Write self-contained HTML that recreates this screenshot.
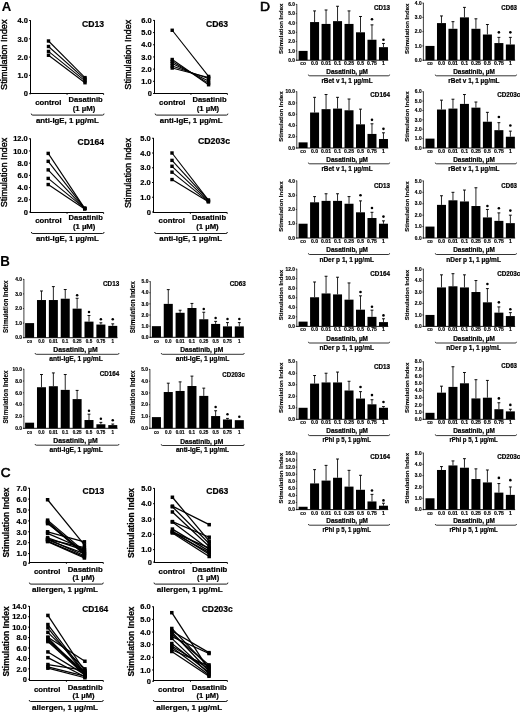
<!DOCTYPE html>
<html><head><meta charset="utf-8"><title>Figure</title>
<style>
html,body{margin:0;padding:0;background:#fff;}
svg{display:block;}
svg text{font-family:"Liberation Sans",sans-serif;font-weight:bold;fill:#000;stroke:#000;}
svg line,svg path{stroke:#000;}
svg rect,svg circle{fill:#000;}
svg{filter:grayscale(1);}
</style></head><body>
<svg width="520" height="713" viewBox="0 0 520 713">
<rect x="0" y="0" width="520" height="713" style="fill:#fff"/>
<text x="1.7" y="10.85" font-size="13.4" text-anchor="start" textLength="9.5" lengthAdjust="spacingAndGlyphs" stroke-width="0.15">A</text>
<text x="0.2" y="265.9" font-size="14" text-anchor="start" textLength="9.6" lengthAdjust="spacingAndGlyphs" stroke-width="0.1">B</text>
<text x="0.7" y="477.3" font-size="13.3" text-anchor="start" textLength="9.8" lengthAdjust="spacingAndGlyphs" style="font-weight:normal" stroke-width="0.6">C</text>
<text x="260" y="11" font-size="13.5" text-anchor="start" textLength="10" lengthAdjust="spacingAndGlyphs" style="font-weight:normal" stroke-width="0.6">D</text>
<line x1="30.5" y1="20.2" x2="30.5" y2="94.2" stroke-width="1"/>
<line x1="29.1" y1="93.7" x2="30.5" y2="93.7" stroke-width="1"/>
<text x="23.63" y="96.4" font-size="7.5" text-anchor="start" textLength="4.17" lengthAdjust="spacingAndGlyphs" stroke-width="0.22">0</text>
<line x1="29.1" y1="75.4" x2="30.5" y2="75.4" stroke-width="1"/>
<text x="17.38" y="78.1" font-size="7.5" text-anchor="start" textLength="10.43" lengthAdjust="spacingAndGlyphs" stroke-width="0.22">1.0</text>
<line x1="29.1" y1="57.1" x2="30.5" y2="57.1" stroke-width="1"/>
<text x="17.38" y="59.8" font-size="7.5" text-anchor="start" textLength="10.43" lengthAdjust="spacingAndGlyphs" stroke-width="0.22">2.0</text>
<line x1="29.1" y1="38.8" x2="30.5" y2="38.8" stroke-width="1"/>
<text x="17.38" y="41.5" font-size="7.5" text-anchor="start" textLength="10.43" lengthAdjust="spacingAndGlyphs" stroke-width="0.22">3.0</text>
<line x1="29.1" y1="20.5" x2="30.5" y2="20.5" stroke-width="1"/>
<text x="17.38" y="23.2" font-size="7.5" text-anchor="start" textLength="10.43" lengthAdjust="spacingAndGlyphs" stroke-width="0.22">4.0</text>
<line x1="30" y1="93.5" x2="103.6" y2="93.5" stroke-width="1"/>
<line x1="30.5" y1="89.5" x2="30.5" y2="94" stroke-width="1"/>
<line x1="67.05" y1="93.5" x2="67.05" y2="94.9" stroke-width="0.9"/>
<line x1="103.6" y1="93.5" x2="103.6" y2="94.9" stroke-width="0.9"/>
<line x1="48.5" y1="41" x2="85" y2="77.6" stroke-width="1.1"/>
<line x1="48.5" y1="46.49" x2="85" y2="79.06" stroke-width="1.1"/>
<line x1="48.5" y1="51.43" x2="85" y2="80.89" stroke-width="1.1"/>
<line x1="48.5" y1="55.27" x2="85" y2="82.72" stroke-width="1.1"/>
<rect x="46.8" y="39.3" width="3.4" height="3.4"/>
<rect x="83.3" y="75.9" width="3.4" height="3.4"/>
<rect x="46.8" y="44.79" width="3.4" height="3.4"/>
<rect x="83.3" y="77.36" width="3.4" height="3.4"/>
<rect x="46.8" y="49.73" width="3.4" height="3.4"/>
<rect x="83.3" y="79.19" width="3.4" height="3.4"/>
<rect x="46.8" y="53.57" width="3.4" height="3.4"/>
<rect x="83.3" y="81.02" width="3.4" height="3.4"/>
<text x="82" y="27.1" font-size="8.6" text-anchor="start" textLength="22" lengthAdjust="spacingAndGlyphs" stroke-width="0.22">CD13</text>
<text x="0" y="0" font-size="8.8" transform="translate(7.3 90) rotate(-90)" textLength="70.5" lengthAdjust="spacingAndGlyphs" style="font-weight:normal" stroke-width="0.4">Stimulation Index</text>
<text x="35.2" y="105.4" font-size="7.8" text-anchor="start" textLength="26.3" lengthAdjust="spacingAndGlyphs" stroke-width="0.22">control</text>
<text x="68.5" y="102.4" font-size="7.8" text-anchor="start" textLength="34.2" lengthAdjust="spacingAndGlyphs" stroke-width="0.22">Dasatinib</text>
<text x="72.8" y="110.8" font-size="7.8" text-anchor="start" textLength="22.5" lengthAdjust="spacingAndGlyphs" stroke-width="0.22">(1 µM)</text>
<path d="M31.25 113.6 Q31.25 115.1 32.75 115.1 L102.5 115.1 Q104 115.1 104 113.6" stroke-width="0.9" fill="none"/>
<text x="35.9" y="122.9" font-size="7.8" text-anchor="start" textLength="62.8" lengthAdjust="spacingAndGlyphs" stroke-width="0.22">anti-IgE, 1 µg/mL</text>
<line x1="154.5" y1="20.1" x2="154.5" y2="94" stroke-width="1"/>
<line x1="153.1" y1="93.5" x2="154.5" y2="93.5" stroke-width="1"/>
<text x="147.63" y="96.2" font-size="7.5" text-anchor="start" textLength="4.17" lengthAdjust="spacingAndGlyphs" stroke-width="0.22">0</text>
<line x1="153.1" y1="81.32" x2="154.5" y2="81.32" stroke-width="1"/>
<text x="141.37" y="84.02" font-size="7.5" text-anchor="start" textLength="10.43" lengthAdjust="spacingAndGlyphs" stroke-width="0.22">1.0</text>
<line x1="153.1" y1="69.13" x2="154.5" y2="69.13" stroke-width="1"/>
<text x="141.37" y="71.83" font-size="7.5" text-anchor="start" textLength="10.43" lengthAdjust="spacingAndGlyphs" stroke-width="0.22">2.0</text>
<line x1="153.1" y1="56.95" x2="154.5" y2="56.95" stroke-width="1"/>
<text x="141.37" y="59.65" font-size="7.5" text-anchor="start" textLength="10.43" lengthAdjust="spacingAndGlyphs" stroke-width="0.22">3.0</text>
<line x1="153.1" y1="44.77" x2="154.5" y2="44.77" stroke-width="1"/>
<text x="141.37" y="47.47" font-size="7.5" text-anchor="start" textLength="10.43" lengthAdjust="spacingAndGlyphs" stroke-width="0.22">4.0</text>
<line x1="153.1" y1="32.58" x2="154.5" y2="32.58" stroke-width="1"/>
<text x="141.37" y="35.28" font-size="7.5" text-anchor="start" textLength="10.43" lengthAdjust="spacingAndGlyphs" stroke-width="0.22">5.0</text>
<line x1="153.1" y1="20.4" x2="154.5" y2="20.4" stroke-width="1"/>
<text x="141.37" y="23.1" font-size="7.5" text-anchor="start" textLength="10.43" lengthAdjust="spacingAndGlyphs" stroke-width="0.22">6.0</text>
<line x1="154" y1="93.5" x2="227.4" y2="93.5" stroke-width="1"/>
<line x1="154.5" y1="89.5" x2="154.5" y2="94" stroke-width="1"/>
<line x1="190.95" y1="93.5" x2="190.95" y2="94.9" stroke-width="0.9"/>
<line x1="227.4" y1="93.5" x2="227.4" y2="94.9" stroke-width="0.9"/>
<line x1="172.2" y1="30.27" x2="208.6" y2="76.44" stroke-width="1.1"/>
<line x1="172.2" y1="59.51" x2="208.6" y2="84.73" stroke-width="1.1"/>
<line x1="172.2" y1="61.46" x2="208.6" y2="83.14" stroke-width="1.1"/>
<line x1="172.2" y1="63.53" x2="208.6" y2="80.95" stroke-width="1.1"/>
<line x1="172.2" y1="65.97" x2="208.6" y2="78.51" stroke-width="1.1"/>
<line x1="172.2" y1="68.04" x2="208.6" y2="77.42" stroke-width="1.1"/>
<rect x="170.5" y="28.57" width="3.4" height="3.4"/>
<rect x="206.9" y="74.74" width="3.4" height="3.4"/>
<rect x="170.5" y="57.81" width="3.4" height="3.4"/>
<rect x="206.9" y="83.03" width="3.4" height="3.4"/>
<rect x="170.5" y="59.76" width="3.4" height="3.4"/>
<rect x="206.9" y="81.44" width="3.4" height="3.4"/>
<rect x="170.5" y="61.83" width="3.4" height="3.4"/>
<rect x="206.9" y="79.25" width="3.4" height="3.4"/>
<rect x="170.5" y="64.27" width="3.4" height="3.4"/>
<rect x="206.9" y="76.81" width="3.4" height="3.4"/>
<rect x="170.5" y="66.34" width="3.4" height="3.4"/>
<rect x="206.9" y="75.72" width="3.4" height="3.4"/>
<text x="206" y="27.1" font-size="8.6" text-anchor="start" textLength="22" lengthAdjust="spacingAndGlyphs" stroke-width="0.22">CD63</text>
<text x="0" y="0" font-size="8.8" transform="translate(131.3 89.7) rotate(-90)" textLength="70" lengthAdjust="spacingAndGlyphs" style="font-weight:normal" stroke-width="0.4">Stimulation Index</text>
<text x="159.1" y="105.4" font-size="7.8" text-anchor="start" textLength="26.3" lengthAdjust="spacingAndGlyphs" stroke-width="0.22">control</text>
<text x="192.4" y="102.4" font-size="7.8" text-anchor="start" textLength="34.2" lengthAdjust="spacingAndGlyphs" stroke-width="0.22">Dasatinib</text>
<text x="196.7" y="110.8" font-size="7.8" text-anchor="start" textLength="22.5" lengthAdjust="spacingAndGlyphs" stroke-width="0.22">(1 µM)</text>
<path d="M155.15 113.6 Q155.15 115.1 156.65 115.1 L226.4 115.1 Q227.9 115.1 227.9 113.6" stroke-width="0.9" fill="none"/>
<text x="159.8" y="122.9" font-size="7.8" text-anchor="start" textLength="62.8" lengthAdjust="spacingAndGlyphs" stroke-width="0.22">anti-IgE, 1 µg/mL</text>
<line x1="30.5" y1="138.45" x2="30.5" y2="212.5" stroke-width="1"/>
<line x1="29.1" y1="212" x2="30.5" y2="212" stroke-width="1"/>
<text x="23.63" y="214.7" font-size="7.5" text-anchor="start" textLength="4.17" lengthAdjust="spacingAndGlyphs" stroke-width="0.22">0</text>
<line x1="29.1" y1="199.79" x2="30.5" y2="199.79" stroke-width="1"/>
<text x="17.38" y="202.49" font-size="7.5" text-anchor="start" textLength="10.43" lengthAdjust="spacingAndGlyphs" stroke-width="0.22">2.0</text>
<line x1="29.1" y1="187.58" x2="30.5" y2="187.58" stroke-width="1"/>
<text x="17.38" y="190.28" font-size="7.5" text-anchor="start" textLength="10.43" lengthAdjust="spacingAndGlyphs" stroke-width="0.22">4.0</text>
<line x1="29.1" y1="175.38" x2="30.5" y2="175.38" stroke-width="1"/>
<text x="17.38" y="178.07" font-size="7.5" text-anchor="start" textLength="10.43" lengthAdjust="spacingAndGlyphs" stroke-width="0.22">6.0</text>
<line x1="29.1" y1="163.17" x2="30.5" y2="163.17" stroke-width="1"/>
<text x="17.38" y="165.87" font-size="7.5" text-anchor="start" textLength="10.43" lengthAdjust="spacingAndGlyphs" stroke-width="0.22">8.0</text>
<line x1="29.1" y1="150.96" x2="30.5" y2="150.96" stroke-width="1"/>
<text x="13.21" y="153.66" font-size="7.5" text-anchor="start" textLength="14.6" lengthAdjust="spacingAndGlyphs" stroke-width="0.22">10.0</text>
<line x1="29.1" y1="138.75" x2="30.5" y2="138.75" stroke-width="1"/>
<text x="13.21" y="141.45" font-size="7.5" text-anchor="start" textLength="14.6" lengthAdjust="spacingAndGlyphs" stroke-width="0.22">12.0</text>
<line x1="30" y1="212.5" x2="103.6" y2="212.5" stroke-width="1"/>
<line x1="30.5" y1="208.5" x2="30.5" y2="213" stroke-width="1"/>
<line x1="67.05" y1="212.5" x2="67.05" y2="213.9" stroke-width="0.9"/>
<line x1="103.6" y1="212.5" x2="103.6" y2="213.9" stroke-width="0.9"/>
<line x1="48.2" y1="153.4" x2="84.7" y2="208.34" stroke-width="1.1"/>
<line x1="48.2" y1="161.34" x2="84.7" y2="208.34" stroke-width="1.1"/>
<line x1="48.2" y1="169.88" x2="84.7" y2="208.64" stroke-width="1.1"/>
<line x1="48.2" y1="178.43" x2="84.7" y2="208.34" stroke-width="1.1"/>
<line x1="48.2" y1="184.53" x2="84.7" y2="208.95" stroke-width="1.1"/>
<rect x="46.5" y="151.7" width="3.4" height="3.4"/>
<rect x="83" y="206.64" width="3.4" height="3.4"/>
<rect x="46.5" y="159.64" width="3.4" height="3.4"/>
<rect x="83" y="206.64" width="3.4" height="3.4"/>
<rect x="46.5" y="168.18" width="3.4" height="3.4"/>
<rect x="83" y="206.94" width="3.4" height="3.4"/>
<rect x="46.5" y="176.73" width="3.4" height="3.4"/>
<rect x="83" y="206.64" width="3.4" height="3.4"/>
<rect x="46.5" y="182.83" width="3.4" height="3.4"/>
<rect x="83" y="207.25" width="3.4" height="3.4"/>
<text x="77.5" y="145.1" font-size="8.6" text-anchor="start" textLength="26.5" lengthAdjust="spacingAndGlyphs" stroke-width="0.22">CD164</text>
<text x="0" y="0" font-size="8.8" transform="translate(7.1 207.3) rotate(-90)" textLength="69.5" lengthAdjust="spacingAndGlyphs" style="font-weight:normal" stroke-width="0.4">Stimulation Index</text>
<text x="35.3" y="223.1" font-size="7.8" text-anchor="start" textLength="26.3" lengthAdjust="spacingAndGlyphs" stroke-width="0.22">control</text>
<text x="68.6" y="220.1" font-size="7.8" text-anchor="start" textLength="34.2" lengthAdjust="spacingAndGlyphs" stroke-width="0.22">Dasatinib</text>
<text x="72.9" y="229.2" font-size="7.8" text-anchor="start" textLength="22.5" lengthAdjust="spacingAndGlyphs" stroke-width="0.22">(1 µM)</text>
<path d="M31.35 232 Q31.35 233.5 32.85 233.5 L102.6 233.5 Q104.1 233.5 104.1 232" stroke-width="0.9" fill="none"/>
<text x="36" y="241.3" font-size="7.8" text-anchor="start" textLength="62.8" lengthAdjust="spacingAndGlyphs" stroke-width="0.22">anti-IgE, 1 µg/mL</text>
<line x1="153.5" y1="137.95" x2="153.5" y2="212.5" stroke-width="1"/>
<line x1="152.1" y1="212" x2="153.5" y2="212" stroke-width="1"/>
<text x="146.63" y="214.7" font-size="7.5" text-anchor="start" textLength="4.17" lengthAdjust="spacingAndGlyphs" stroke-width="0.22">0</text>
<line x1="152.1" y1="197.25" x2="153.5" y2="197.25" stroke-width="1"/>
<text x="140.37" y="199.95" font-size="7.5" text-anchor="start" textLength="10.43" lengthAdjust="spacingAndGlyphs" stroke-width="0.22">1.0</text>
<line x1="152.1" y1="182.5" x2="153.5" y2="182.5" stroke-width="1"/>
<text x="140.37" y="185.2" font-size="7.5" text-anchor="start" textLength="10.43" lengthAdjust="spacingAndGlyphs" stroke-width="0.22">2.0</text>
<line x1="152.1" y1="167.75" x2="153.5" y2="167.75" stroke-width="1"/>
<text x="140.37" y="170.45" font-size="7.5" text-anchor="start" textLength="10.43" lengthAdjust="spacingAndGlyphs" stroke-width="0.22">3.0</text>
<line x1="152.1" y1="153" x2="153.5" y2="153" stroke-width="1"/>
<text x="140.37" y="155.7" font-size="7.5" text-anchor="start" textLength="10.43" lengthAdjust="spacingAndGlyphs" stroke-width="0.22">4.0</text>
<line x1="152.1" y1="138.25" x2="153.5" y2="138.25" stroke-width="1"/>
<text x="140.37" y="140.95" font-size="7.5" text-anchor="start" textLength="10.43" lengthAdjust="spacingAndGlyphs" stroke-width="0.22">5.0</text>
<line x1="153" y1="212.5" x2="227.2" y2="212.5" stroke-width="1"/>
<line x1="153.5" y1="208.5" x2="153.5" y2="213" stroke-width="1"/>
<line x1="190.35" y1="212.5" x2="190.35" y2="213.9" stroke-width="0.9"/>
<line x1="227.2" y1="212.5" x2="227.2" y2="213.9" stroke-width="0.9"/>
<line x1="172" y1="153" x2="208.4" y2="200.2" stroke-width="1.1"/>
<line x1="172" y1="160.38" x2="208.4" y2="200.2" stroke-width="1.1"/>
<line x1="172" y1="166.28" x2="208.4" y2="200.94" stroke-width="1.1"/>
<line x1="172" y1="172.18" x2="208.4" y2="201.68" stroke-width="1.1"/>
<line x1="172" y1="179.55" x2="208.4" y2="201.68" stroke-width="1.1"/>
<rect x="170.3" y="151.3" width="3.4" height="3.4"/>
<rect x="206.7" y="198.5" width="3.4" height="3.4"/>
<rect x="170.3" y="158.68" width="3.4" height="3.4"/>
<rect x="206.7" y="198.5" width="3.4" height="3.4"/>
<rect x="170.3" y="164.58" width="3.4" height="3.4"/>
<rect x="206.7" y="199.24" width="3.4" height="3.4"/>
<rect x="170.3" y="170.48" width="3.4" height="3.4"/>
<rect x="206.7" y="199.98" width="3.4" height="3.4"/>
<rect x="170.3" y="177.85" width="3.4" height="3.4"/>
<rect x="206.7" y="199.98" width="3.4" height="3.4"/>
<text x="198" y="143.6" font-size="8.6" text-anchor="start" textLength="32" lengthAdjust="spacingAndGlyphs" stroke-width="0.22">CD203c</text>
<text x="0" y="0" font-size="8.8" transform="translate(131.3 208) rotate(-90)" textLength="70" lengthAdjust="spacingAndGlyphs" style="font-weight:normal" stroke-width="0.4">Stimulation Index</text>
<text x="158.6" y="223.1" font-size="7.8" text-anchor="start" textLength="26.3" lengthAdjust="spacingAndGlyphs" stroke-width="0.22">control</text>
<text x="191.9" y="220.1" font-size="7.8" text-anchor="start" textLength="34.2" lengthAdjust="spacingAndGlyphs" stroke-width="0.22">Dasatinib</text>
<text x="196.2" y="229.2" font-size="7.8" text-anchor="start" textLength="22.5" lengthAdjust="spacingAndGlyphs" stroke-width="0.22">(1 µM)</text>
<path d="M154.65 232 Q154.65 233.5 156.15 233.5 L225.9 233.5 Q227.4 233.5 227.4 232" stroke-width="0.9" fill="none"/>
<text x="159.3" y="241.3" font-size="7.8" text-anchor="start" textLength="62.8" lengthAdjust="spacingAndGlyphs" stroke-width="0.22">anti-IgE, 1 µg/mL</text>
<line x1="29.5" y1="487.9" x2="29.5" y2="563.7" stroke-width="1"/>
<line x1="28.1" y1="563.2" x2="29.5" y2="563.2" stroke-width="1"/>
<text x="22.63" y="565.9" font-size="7.5" text-anchor="start" textLength="4.17" lengthAdjust="spacingAndGlyphs" stroke-width="0.22">0</text>
<line x1="28.1" y1="553.6" x2="29.5" y2="553.6" stroke-width="1"/>
<text x="16.38" y="556.3" font-size="7.5" text-anchor="start" textLength="10.43" lengthAdjust="spacingAndGlyphs" stroke-width="0.22">1.0</text>
<line x1="28.1" y1="542.7" x2="29.5" y2="542.7" stroke-width="1"/>
<text x="16.38" y="545.4" font-size="7.5" text-anchor="start" textLength="10.43" lengthAdjust="spacingAndGlyphs" stroke-width="0.22">2.0</text>
<line x1="28.1" y1="531.8" x2="29.5" y2="531.8" stroke-width="1"/>
<text x="16.38" y="534.5" font-size="7.5" text-anchor="start" textLength="10.43" lengthAdjust="spacingAndGlyphs" stroke-width="0.22">3.0</text>
<line x1="28.1" y1="520.9" x2="29.5" y2="520.9" stroke-width="1"/>
<text x="16.38" y="523.6" font-size="7.5" text-anchor="start" textLength="10.43" lengthAdjust="spacingAndGlyphs" stroke-width="0.22">4.0</text>
<line x1="28.1" y1="510" x2="29.5" y2="510" stroke-width="1"/>
<text x="16.38" y="512.7" font-size="7.5" text-anchor="start" textLength="10.43" lengthAdjust="spacingAndGlyphs" stroke-width="0.22">5.0</text>
<line x1="28.1" y1="499.1" x2="29.5" y2="499.1" stroke-width="1"/>
<text x="16.38" y="501.8" font-size="7.5" text-anchor="start" textLength="10.43" lengthAdjust="spacingAndGlyphs" stroke-width="0.22">6.0</text>
<line x1="28.1" y1="488.2" x2="29.5" y2="488.2" stroke-width="1"/>
<text x="16.38" y="490.9" font-size="7.5" text-anchor="start" textLength="10.43" lengthAdjust="spacingAndGlyphs" stroke-width="0.22">7.0</text>
<line x1="29" y1="562.5" x2="103.3" y2="562.5" stroke-width="1"/>
<line x1="29.5" y1="558.5" x2="29.5" y2="563" stroke-width="1"/>
<line x1="66.4" y1="562.5" x2="66.4" y2="563.9" stroke-width="0.9"/>
<line x1="103.3" y1="562.5" x2="103.3" y2="563.9" stroke-width="0.9"/>
<line x1="47.6" y1="499.75" x2="84.4" y2="544.88" stroke-width="1.25"/>
<line x1="47.6" y1="520.14" x2="84.4" y2="551.42" stroke-width="1.25"/>
<line x1="47.6" y1="521.44" x2="84.4" y2="553.6" stroke-width="1.25"/>
<line x1="47.6" y1="522.53" x2="84.4" y2="554.69" stroke-width="1.25"/>
<line x1="47.6" y1="523.62" x2="84.4" y2="552.51" stroke-width="1.25"/>
<line x1="47.6" y1="531.8" x2="84.4" y2="541.83" stroke-width="1.25"/>
<line x1="47.6" y1="533.43" x2="84.4" y2="549.24" stroke-width="1.25"/>
<line x1="47.6" y1="537.79" x2="84.4" y2="550.33" stroke-width="1.25"/>
<line x1="47.6" y1="538.88" x2="84.4" y2="555.78" stroke-width="1.25"/>
<line x1="47.6" y1="539.98" x2="84.4" y2="553.6" stroke-width="1.25"/>
<line x1="47.6" y1="541.07" x2="84.4" y2="556.87" stroke-width="1.25"/>
<line x1="47.6" y1="541.61" x2="84.4" y2="557.96" stroke-width="1.25"/>
<line x1="47.6" y1="539.43" x2="84.4" y2="547.61" stroke-width="1.25"/>
<rect x="45.85" y="498" width="3.5" height="3.5"/>
<rect x="82.65" y="543.13" width="3.5" height="3.5"/>
<rect x="45.85" y="518.39" width="3.5" height="3.5"/>
<rect x="82.65" y="549.67" width="3.5" height="3.5"/>
<rect x="45.85" y="519.69" width="3.5" height="3.5"/>
<rect x="82.65" y="551.85" width="3.5" height="3.5"/>
<rect x="45.85" y="520.78" width="3.5" height="3.5"/>
<rect x="82.65" y="552.94" width="3.5" height="3.5"/>
<rect x="45.85" y="521.88" width="3.5" height="3.5"/>
<rect x="82.65" y="550.76" width="3.5" height="3.5"/>
<rect x="45.85" y="530.05" width="3.5" height="3.5"/>
<rect x="82.65" y="540.08" width="3.5" height="3.5"/>
<rect x="45.85" y="531.68" width="3.5" height="3.5"/>
<rect x="82.65" y="547.49" width="3.5" height="3.5"/>
<rect x="45.85" y="536.04" width="3.5" height="3.5"/>
<rect x="82.65" y="548.58" width="3.5" height="3.5"/>
<rect x="45.85" y="537.13" width="3.5" height="3.5"/>
<rect x="82.65" y="554.03" width="3.5" height="3.5"/>
<rect x="45.85" y="538.23" width="3.5" height="3.5"/>
<rect x="82.65" y="551.85" width="3.5" height="3.5"/>
<rect x="45.85" y="539.32" width="3.5" height="3.5"/>
<rect x="82.65" y="555.12" width="3.5" height="3.5"/>
<rect x="45.85" y="539.86" width="3.5" height="3.5"/>
<rect x="82.65" y="556.21" width="3.5" height="3.5"/>
<rect x="45.85" y="537.68" width="3.5" height="3.5"/>
<rect x="82.65" y="545.86" width="3.5" height="3.5"/>
<text x="82.5" y="494.3" font-size="8.6" text-anchor="start" textLength="21.7" lengthAdjust="spacingAndGlyphs" stroke-width="0.22">CD13</text>
<text x="0" y="0" font-size="8.2" transform="translate(9.3 557.5) rotate(-90)" textLength="70" lengthAdjust="spacingAndGlyphs" stroke-width="0.22">Stimulation Index</text>
<text x="34" y="574" font-size="7.8" text-anchor="start" textLength="26.4" lengthAdjust="spacingAndGlyphs" stroke-width="0.22">control</text>
<text x="67.7" y="571.6" font-size="7.8" text-anchor="start" textLength="35" lengthAdjust="spacingAndGlyphs" stroke-width="0.22">Dasatinib</text>
<text x="72.5" y="579.6" font-size="7.8" text-anchor="start" textLength="22.1" lengthAdjust="spacingAndGlyphs" stroke-width="0.22">(1 µM)</text>
<path d="M29.4 582.6 Q29.4 584.1 30.9 584.1 L101.8 584.1 Q103.3 584.1 103.3 582.6" stroke-width="0.9" fill="none"/>
<text x="32.1" y="592.2" font-size="7.8" text-anchor="start" textLength="65.9" lengthAdjust="spacingAndGlyphs" stroke-width="0.22">allergen, 1 µg/mL</text>
<line x1="154.5" y1="488.1" x2="154.5" y2="562.6" stroke-width="1"/>
<line x1="153.1" y1="562.1" x2="154.5" y2="562.1" stroke-width="1"/>
<text x="147.63" y="564.8" font-size="7.5" text-anchor="start" textLength="4.17" lengthAdjust="spacingAndGlyphs" stroke-width="0.22">0</text>
<line x1="153.1" y1="549.6" x2="154.5" y2="549.6" stroke-width="1"/>
<text x="141.37" y="552.3" font-size="7.5" text-anchor="start" textLength="10.43" lengthAdjust="spacingAndGlyphs" stroke-width="0.22">1.0</text>
<line x1="153.1" y1="534.3" x2="154.5" y2="534.3" stroke-width="1"/>
<text x="141.37" y="537" font-size="7.5" text-anchor="start" textLength="10.43" lengthAdjust="spacingAndGlyphs" stroke-width="0.22">2.0</text>
<line x1="153.1" y1="519" x2="154.5" y2="519" stroke-width="1"/>
<text x="141.37" y="521.7" font-size="7.5" text-anchor="start" textLength="10.43" lengthAdjust="spacingAndGlyphs" stroke-width="0.22">3.0</text>
<line x1="153.1" y1="503.7" x2="154.5" y2="503.7" stroke-width="1"/>
<text x="141.37" y="506.4" font-size="7.5" text-anchor="start" textLength="10.43" lengthAdjust="spacingAndGlyphs" stroke-width="0.22">4.0</text>
<line x1="153.1" y1="488.4" x2="154.5" y2="488.4" stroke-width="1"/>
<text x="141.37" y="491.1" font-size="7.5" text-anchor="start" textLength="10.43" lengthAdjust="spacingAndGlyphs" stroke-width="0.22">5.0</text>
<line x1="154" y1="562.5" x2="227.4" y2="562.5" stroke-width="1"/>
<line x1="154.5" y1="558.5" x2="154.5" y2="563" stroke-width="1"/>
<line x1="190.95" y1="562.5" x2="190.95" y2="563.9" stroke-width="0.9"/>
<line x1="227.4" y1="562.5" x2="227.4" y2="563.9" stroke-width="0.9"/>
<line x1="172.4" y1="497.27" x2="209.2" y2="541.03" stroke-width="1.25"/>
<line x1="172.4" y1="506.15" x2="209.2" y2="524.66" stroke-width="1.25"/>
<line x1="172.4" y1="506.76" x2="209.2" y2="543.48" stroke-width="1.25"/>
<line x1="172.4" y1="511.96" x2="209.2" y2="546.54" stroke-width="1.25"/>
<line x1="172.4" y1="521.6" x2="209.2" y2="537.21" stroke-width="1.25"/>
<line x1="172.4" y1="522.06" x2="209.2" y2="549.6" stroke-width="1.25"/>
<line x1="172.4" y1="529.1" x2="209.2" y2="551.13" stroke-width="1.25"/>
<line x1="172.4" y1="531.24" x2="209.2" y2="554.19" stroke-width="1.25"/>
<line x1="172.4" y1="531.85" x2="209.2" y2="548.07" stroke-width="1.25"/>
<line x1="172.4" y1="532.92" x2="209.2" y2="556.49" stroke-width="1.25"/>
<line x1="172.4" y1="532.46" x2="209.2" y2="552.66" stroke-width="1.25"/>
<rect x="170.65" y="495.52" width="3.5" height="3.5"/>
<rect x="207.45" y="539.28" width="3.5" height="3.5"/>
<rect x="170.65" y="504.4" width="3.5" height="3.5"/>
<rect x="207.45" y="522.91" width="3.5" height="3.5"/>
<rect x="170.65" y="505.01" width="3.5" height="3.5"/>
<rect x="207.45" y="541.73" width="3.5" height="3.5"/>
<rect x="170.65" y="510.21" width="3.5" height="3.5"/>
<rect x="207.45" y="544.79" width="3.5" height="3.5"/>
<rect x="170.65" y="519.85" width="3.5" height="3.5"/>
<rect x="207.45" y="535.46" width="3.5" height="3.5"/>
<rect x="170.65" y="520.31" width="3.5" height="3.5"/>
<rect x="207.45" y="547.85" width="3.5" height="3.5"/>
<rect x="170.65" y="527.35" width="3.5" height="3.5"/>
<rect x="207.45" y="549.38" width="3.5" height="3.5"/>
<rect x="170.65" y="529.49" width="3.5" height="3.5"/>
<rect x="207.45" y="552.44" width="3.5" height="3.5"/>
<rect x="170.65" y="530.1" width="3.5" height="3.5"/>
<rect x="207.45" y="546.32" width="3.5" height="3.5"/>
<rect x="170.65" y="531.17" width="3.5" height="3.5"/>
<rect x="207.45" y="554.74" width="3.5" height="3.5"/>
<rect x="170.65" y="530.71" width="3.5" height="3.5"/>
<rect x="207.45" y="550.91" width="3.5" height="3.5"/>
<text x="206.3" y="493.9" font-size="8.6" text-anchor="start" textLength="22" lengthAdjust="spacingAndGlyphs" stroke-width="0.22">CD63</text>
<text x="0" y="0" font-size="8.2" transform="translate(133.9 558) rotate(-90)" textLength="70" lengthAdjust="spacingAndGlyphs" stroke-width="0.22">Stimulation Index</text>
<text x="158.6" y="574" font-size="7.8" text-anchor="start" textLength="26.4" lengthAdjust="spacingAndGlyphs" stroke-width="0.22">control</text>
<text x="192.3" y="571.6" font-size="7.8" text-anchor="start" textLength="35" lengthAdjust="spacingAndGlyphs" stroke-width="0.22">Dasatinib</text>
<text x="197.1" y="579.6" font-size="7.8" text-anchor="start" textLength="22.1" lengthAdjust="spacingAndGlyphs" stroke-width="0.22">(1 µM)</text>
<path d="M154 582.6 Q154 584.1 155.5 584.1 L226.4 584.1 Q227.9 584.1 227.9 582.6" stroke-width="0.9" fill="none"/>
<text x="156.7" y="592.2" font-size="7.8" text-anchor="start" textLength="65.9" lengthAdjust="spacingAndGlyphs" stroke-width="0.22">allergen, 1 µg/mL</text>
<line x1="29.5" y1="606" x2="29.5" y2="679.7" stroke-width="1"/>
<line x1="28.1" y1="679.2" x2="29.5" y2="679.2" stroke-width="1"/>
<text x="22.63" y="681.9" font-size="7.5" text-anchor="start" textLength="4.17" lengthAdjust="spacingAndGlyphs" stroke-width="0.22">0</text>
<line x1="28.1" y1="668.87" x2="29.5" y2="668.87" stroke-width="1"/>
<text x="16.38" y="671.57" font-size="7.5" text-anchor="start" textLength="10.43" lengthAdjust="spacingAndGlyphs" stroke-width="0.22">2.0</text>
<line x1="28.1" y1="658.44" x2="29.5" y2="658.44" stroke-width="1"/>
<text x="16.38" y="661.14" font-size="7.5" text-anchor="start" textLength="10.43" lengthAdjust="spacingAndGlyphs" stroke-width="0.22">4.0</text>
<line x1="28.1" y1="648.01" x2="29.5" y2="648.01" stroke-width="1"/>
<text x="16.38" y="650.71" font-size="7.5" text-anchor="start" textLength="10.43" lengthAdjust="spacingAndGlyphs" stroke-width="0.22">6.0</text>
<line x1="28.1" y1="637.59" x2="29.5" y2="637.59" stroke-width="1"/>
<text x="16.38" y="640.29" font-size="7.5" text-anchor="start" textLength="10.43" lengthAdjust="spacingAndGlyphs" stroke-width="0.22">8.0</text>
<line x1="28.1" y1="627.16" x2="29.5" y2="627.16" stroke-width="1"/>
<text x="12.21" y="629.86" font-size="7.5" text-anchor="start" textLength="14.6" lengthAdjust="spacingAndGlyphs" stroke-width="0.22">10.0</text>
<line x1="28.1" y1="616.73" x2="29.5" y2="616.73" stroke-width="1"/>
<text x="12.21" y="619.43" font-size="7.5" text-anchor="start" textLength="14.6" lengthAdjust="spacingAndGlyphs" stroke-width="0.22">12.0</text>
<line x1="28.1" y1="606.3" x2="29.5" y2="606.3" stroke-width="1"/>
<text x="12.21" y="609" font-size="7.5" text-anchor="start" textLength="14.6" lengthAdjust="spacingAndGlyphs" stroke-width="0.22">14.0</text>
<line x1="29" y1="680.5" x2="103.3" y2="680.5" stroke-width="1"/>
<line x1="29.5" y1="676.5" x2="29.5" y2="681" stroke-width="1"/>
<line x1="66.4" y1="680.5" x2="66.4" y2="681.9" stroke-width="0.9"/>
<line x1="103.3" y1="680.5" x2="103.3" y2="681.9" stroke-width="0.9"/>
<line x1="47.9" y1="615.42" x2="84.9" y2="671.48" stroke-width="1.25"/>
<line x1="47.9" y1="624.55" x2="84.9" y2="673.04" stroke-width="1.25"/>
<line x1="47.9" y1="627.83" x2="84.9" y2="674.09" stroke-width="1.25"/>
<line x1="47.9" y1="632.37" x2="84.9" y2="668.87" stroke-width="1.25"/>
<line x1="47.9" y1="637.17" x2="84.9" y2="661.26" stroke-width="1.25"/>
<line x1="47.9" y1="639.41" x2="84.9" y2="672.52" stroke-width="1.25"/>
<line x1="47.9" y1="641.6" x2="84.9" y2="675.13" stroke-width="1.25"/>
<line x1="47.9" y1="651.92" x2="84.9" y2="674.61" stroke-width="1.25"/>
<line x1="47.9" y1="657.66" x2="84.9" y2="676.69" stroke-width="1.25"/>
<line x1="47.9" y1="664.54" x2="84.9" y2="670.44" stroke-width="1.25"/>
<line x1="47.9" y1="666.79" x2="84.9" y2="676.17" stroke-width="1.25"/>
<line x1="47.9" y1="668.19" x2="84.9" y2="677.74" stroke-width="1.25"/>
<line x1="47.9" y1="640.71" x2="84.9" y2="673.56" stroke-width="1.25"/>
<line x1="47.9" y1="637.59" x2="84.9" y2="675.65" stroke-width="1.25"/>
<rect x="46.15" y="613.67" width="3.5" height="3.5"/>
<rect x="83.15" y="669.73" width="3.5" height="3.5"/>
<rect x="46.15" y="622.8" width="3.5" height="3.5"/>
<rect x="83.15" y="671.29" width="3.5" height="3.5"/>
<rect x="46.15" y="626.08" width="3.5" height="3.5"/>
<rect x="83.15" y="672.34" width="3.5" height="3.5"/>
<rect x="46.15" y="630.62" width="3.5" height="3.5"/>
<rect x="83.15" y="667.12" width="3.5" height="3.5"/>
<rect x="46.15" y="635.42" width="3.5" height="3.5"/>
<rect x="83.15" y="659.51" width="3.5" height="3.5"/>
<rect x="46.15" y="637.66" width="3.5" height="3.5"/>
<rect x="83.15" y="670.77" width="3.5" height="3.5"/>
<rect x="46.15" y="639.85" width="3.5" height="3.5"/>
<rect x="83.15" y="673.38" width="3.5" height="3.5"/>
<rect x="46.15" y="650.17" width="3.5" height="3.5"/>
<rect x="83.15" y="672.86" width="3.5" height="3.5"/>
<rect x="46.15" y="655.91" width="3.5" height="3.5"/>
<rect x="83.15" y="674.94" width="3.5" height="3.5"/>
<rect x="46.15" y="662.79" width="3.5" height="3.5"/>
<rect x="83.15" y="668.69" width="3.5" height="3.5"/>
<rect x="46.15" y="665.04" width="3.5" height="3.5"/>
<rect x="83.15" y="674.42" width="3.5" height="3.5"/>
<rect x="46.15" y="666.44" width="3.5" height="3.5"/>
<rect x="83.15" y="675.99" width="3.5" height="3.5"/>
<rect x="46.15" y="638.96" width="3.5" height="3.5"/>
<rect x="83.15" y="671.81" width="3.5" height="3.5"/>
<rect x="46.15" y="635.84" width="3.5" height="3.5"/>
<rect x="83.15" y="673.9" width="3.5" height="3.5"/>
<text x="82.2" y="612.3" font-size="8.6" text-anchor="start" textLength="26" lengthAdjust="spacingAndGlyphs" stroke-width="0.22">CD164</text>
<text x="0" y="0" font-size="8.2" transform="translate(9.3 676.6) rotate(-90)" textLength="70.2" lengthAdjust="spacingAndGlyphs" stroke-width="0.22">Stimulation Index</text>
<text x="34" y="692.2" font-size="7.8" text-anchor="start" textLength="26.4" lengthAdjust="spacingAndGlyphs" stroke-width="0.22">control</text>
<text x="67.7" y="689.8" font-size="7.8" text-anchor="start" textLength="35" lengthAdjust="spacingAndGlyphs" stroke-width="0.22">Dasatinib</text>
<text x="72.5" y="698" font-size="7.8" text-anchor="start" textLength="22.1" lengthAdjust="spacingAndGlyphs" stroke-width="0.22">(1 µM)</text>
<path d="M29.2 700 Q29.2 701.5 30.7 701.5 L101.8 701.5 Q103.3 701.5 103.3 700" stroke-width="0.9" fill="none"/>
<text x="32.1" y="709.8" font-size="7.8" text-anchor="start" textLength="65.9" lengthAdjust="spacingAndGlyphs" stroke-width="0.22">allergen, 1 µg/mL</text>
<line x1="153.5" y1="606.45" x2="153.5" y2="681.7" stroke-width="1"/>
<line x1="152.1" y1="681.2" x2="153.5" y2="681.2" stroke-width="1"/>
<text x="146.63" y="683.9" font-size="7.5" text-anchor="start" textLength="4.17" lengthAdjust="spacingAndGlyphs" stroke-width="0.22">0</text>
<line x1="152.1" y1="669.96" x2="153.5" y2="669.96" stroke-width="1"/>
<text x="140.37" y="672.66" font-size="7.5" text-anchor="start" textLength="10.43" lengthAdjust="spacingAndGlyphs" stroke-width="0.22">1.0</text>
<line x1="152.1" y1="657.32" x2="153.5" y2="657.32" stroke-width="1"/>
<text x="140.37" y="660.02" font-size="7.5" text-anchor="start" textLength="10.43" lengthAdjust="spacingAndGlyphs" stroke-width="0.22">2.0</text>
<line x1="152.1" y1="644.67" x2="153.5" y2="644.67" stroke-width="1"/>
<text x="140.37" y="647.38" font-size="7.5" text-anchor="start" textLength="10.43" lengthAdjust="spacingAndGlyphs" stroke-width="0.22">3.0</text>
<line x1="152.1" y1="632.03" x2="153.5" y2="632.03" stroke-width="1"/>
<text x="140.37" y="634.73" font-size="7.5" text-anchor="start" textLength="10.43" lengthAdjust="spacingAndGlyphs" stroke-width="0.22">4.0</text>
<line x1="152.1" y1="619.39" x2="153.5" y2="619.39" stroke-width="1"/>
<text x="140.37" y="622.09" font-size="7.5" text-anchor="start" textLength="10.43" lengthAdjust="spacingAndGlyphs" stroke-width="0.22">5.0</text>
<line x1="152.1" y1="606.75" x2="153.5" y2="606.75" stroke-width="1"/>
<text x="140.37" y="609.45" font-size="7.5" text-anchor="start" textLength="10.43" lengthAdjust="spacingAndGlyphs" stroke-width="0.22">6.0</text>
<line x1="153" y1="680.5" x2="227.4" y2="680.5" stroke-width="1"/>
<line x1="153.5" y1="676.5" x2="153.5" y2="681" stroke-width="1"/>
<line x1="190.45" y1="680.5" x2="190.45" y2="681.9" stroke-width="0.9"/>
<line x1="227.4" y1="680.5" x2="227.4" y2="681.9" stroke-width="0.9"/>
<line x1="171.8" y1="612.69" x2="209" y2="669.96" stroke-width="1.25"/>
<line x1="171.8" y1="628.49" x2="209" y2="667.43" stroke-width="1.25"/>
<line x1="171.8" y1="631.02" x2="209" y2="652.64" stroke-width="1.25"/>
<line x1="171.8" y1="634.06" x2="209" y2="664.9" stroke-width="1.25"/>
<line x1="171.8" y1="636.58" x2="209" y2="653.52" stroke-width="1.25"/>
<line x1="171.8" y1="632.03" x2="209" y2="671.22" stroke-width="1.25"/>
<line x1="171.8" y1="643.54" x2="209" y2="672.49" stroke-width="1.25"/>
<line x1="171.8" y1="646.07" x2="209" y2="668.69" stroke-width="1.25"/>
<line x1="171.8" y1="647.2" x2="209" y2="675.01" stroke-width="1.25"/>
<line x1="171.8" y1="651.5" x2="209" y2="676.28" stroke-width="1.25"/>
<line x1="171.8" y1="638.35" x2="209" y2="673.75" stroke-width="1.25"/>
<line x1="171.8" y1="649.73" x2="209" y2="666.17" stroke-width="1.25"/>
<rect x="170.05" y="610.94" width="3.5" height="3.5"/>
<rect x="207.25" y="668.21" width="3.5" height="3.5"/>
<rect x="170.05" y="626.74" width="3.5" height="3.5"/>
<rect x="207.25" y="665.68" width="3.5" height="3.5"/>
<rect x="170.05" y="629.27" width="3.5" height="3.5"/>
<rect x="207.25" y="650.89" width="3.5" height="3.5"/>
<rect x="170.05" y="632.31" width="3.5" height="3.5"/>
<rect x="207.25" y="663.15" width="3.5" height="3.5"/>
<rect x="170.05" y="634.83" width="3.5" height="3.5"/>
<rect x="207.25" y="651.77" width="3.5" height="3.5"/>
<rect x="170.05" y="630.28" width="3.5" height="3.5"/>
<rect x="207.25" y="669.47" width="3.5" height="3.5"/>
<rect x="170.05" y="641.79" width="3.5" height="3.5"/>
<rect x="207.25" y="670.74" width="3.5" height="3.5"/>
<rect x="170.05" y="644.32" width="3.5" height="3.5"/>
<rect x="207.25" y="666.94" width="3.5" height="3.5"/>
<rect x="170.05" y="645.45" width="3.5" height="3.5"/>
<rect x="207.25" y="673.26" width="3.5" height="3.5"/>
<rect x="170.05" y="649.75" width="3.5" height="3.5"/>
<rect x="207.25" y="674.53" width="3.5" height="3.5"/>
<rect x="170.05" y="636.6" width="3.5" height="3.5"/>
<rect x="207.25" y="672" width="3.5" height="3.5"/>
<rect x="170.05" y="647.98" width="3.5" height="3.5"/>
<rect x="207.25" y="664.42" width="3.5" height="3.5"/>
<text x="201.7" y="612.4" font-size="8.6" text-anchor="start" textLength="31" lengthAdjust="spacingAndGlyphs" stroke-width="0.22">CD203c</text>
<text x="0" y="0" font-size="8.2" transform="translate(133.9 676.5) rotate(-90)" textLength="70" lengthAdjust="spacingAndGlyphs" stroke-width="0.22">Stimulation Index</text>
<text x="158.1" y="692.2" font-size="7.8" text-anchor="start" textLength="26.4" lengthAdjust="spacingAndGlyphs" stroke-width="0.22">control</text>
<text x="191.8" y="689.8" font-size="7.8" text-anchor="start" textLength="35" lengthAdjust="spacingAndGlyphs" stroke-width="0.22">Dasatinib</text>
<text x="196.6" y="698" font-size="7.8" text-anchor="start" textLength="22.1" lengthAdjust="spacingAndGlyphs" stroke-width="0.22">(1 µM)</text>
<path d="M153.3 700 Q153.3 701.5 154.8 701.5 L225.9 701.5 Q227.4 701.5 227.4 700" stroke-width="0.9" fill="none"/>
<text x="156.2" y="709.8" font-size="7.8" text-anchor="start" textLength="65.9" lengthAdjust="spacingAndGlyphs" stroke-width="0.22">allergen, 1 µg/mL</text>
<line x1="23.9" y1="279" x2="23.9" y2="338.2" stroke-width="0.75"/>
<line x1="22.9" y1="337.7" x2="23.9" y2="337.7" stroke-width="0.75"/>
<text x="15.24" y="339.39" font-size="4.7" text-anchor="start" textLength="6.86" lengthAdjust="spacingAndGlyphs" stroke-width="0.15">0.0</text>
<line x1="22.9" y1="323.1" x2="23.9" y2="323.1" stroke-width="0.75"/>
<text x="15.24" y="324.79" font-size="4.7" text-anchor="start" textLength="6.86" lengthAdjust="spacingAndGlyphs" stroke-width="0.15">1.0</text>
<line x1="22.9" y1="308.5" x2="23.9" y2="308.5" stroke-width="0.75"/>
<text x="15.24" y="310.19" font-size="4.7" text-anchor="start" textLength="6.86" lengthAdjust="spacingAndGlyphs" stroke-width="0.15">2.0</text>
<line x1="22.9" y1="293.9" x2="23.9" y2="293.9" stroke-width="0.75"/>
<text x="15.24" y="295.59" font-size="4.7" text-anchor="start" textLength="6.86" lengthAdjust="spacingAndGlyphs" stroke-width="0.15">3.0</text>
<line x1="22.9" y1="279.3" x2="23.9" y2="279.3" stroke-width="0.75"/>
<text x="15.24" y="280.99" font-size="4.7" text-anchor="start" textLength="6.86" lengthAdjust="spacingAndGlyphs" stroke-width="0.15">4.0</text>
<line x1="23.45" y1="337.7" x2="117.56" y2="337.7" stroke-width="0.9"/>
<rect x="25.1" y="323.1" width="9" height="14.6"/>
<rect x="36.98" y="300.03" width="9" height="37.67"/>
<line x1="41.48" y1="300.03" x2="41.48" y2="290.98" stroke-width="0.85"/>
<line x1="40.03" y1="290.98" x2="42.93" y2="290.98" stroke-width="0.95"/>
<rect x="48.86" y="300.03" width="9" height="37.67"/>
<line x1="53.36" y1="300.03" x2="53.36" y2="286.6" stroke-width="0.85"/>
<line x1="51.91" y1="286.6" x2="54.81" y2="286.6" stroke-width="0.95"/>
<rect x="60.74" y="298.72" width="9" height="38.98"/>
<line x1="65.24" y1="298.72" x2="65.24" y2="289.52" stroke-width="0.85"/>
<line x1="63.79" y1="289.52" x2="66.69" y2="289.52" stroke-width="0.95"/>
<rect x="72.62" y="308.65" width="9" height="29.05"/>
<line x1="77.12" y1="308.65" x2="77.12" y2="298.28" stroke-width="0.85"/>
<line x1="75.67" y1="298.28" x2="78.57" y2="298.28" stroke-width="0.95"/>
<circle cx="77.12" cy="295.21" r="1.25"/>
<rect x="84.5" y="321.64" width="9" height="16.06"/>
<line x1="89" y1="321.64" x2="89" y2="315.51" stroke-width="0.85"/>
<line x1="87.55" y1="315.51" x2="90.45" y2="315.51" stroke-width="0.95"/>
<circle cx="89" cy="312" r="1.25"/>
<rect x="96.38" y="324.56" width="9" height="13.14"/>
<line x1="100.88" y1="324.56" x2="100.88" y2="322.81" stroke-width="0.85"/>
<line x1="99.43" y1="322.81" x2="102.33" y2="322.81" stroke-width="0.95"/>
<circle cx="100.88" cy="319.3" r="1.25"/>
<rect x="108.26" y="325.87" width="9" height="11.83"/>
<line x1="112.76" y1="325.87" x2="112.76" y2="323.83" stroke-width="0.85"/>
<line x1="111.31" y1="323.83" x2="114.21" y2="323.83" stroke-width="0.95"/>
<circle cx="112.76" cy="319.16" r="1.25"/>
<text x="27.09" y="342.6" font-size="4.8" text-anchor="start" textLength="5.02" lengthAdjust="spacingAndGlyphs" stroke-width="0.15">co</text>
<text x="38.31" y="342.6" font-size="4.8" text-anchor="start" textLength="6.34" lengthAdjust="spacingAndGlyphs" stroke-width="0.15">0.0</text>
<text x="48.92" y="342.6" font-size="4.8" text-anchor="start" textLength="8.87" lengthAdjust="spacingAndGlyphs" stroke-width="0.15">0.01</text>
<text x="62.07" y="342.6" font-size="4.8" text-anchor="start" textLength="6.34" lengthAdjust="spacingAndGlyphs" stroke-width="0.15">0.1</text>
<text x="72.68" y="342.6" font-size="4.8" text-anchor="start" textLength="8.87" lengthAdjust="spacingAndGlyphs" stroke-width="0.15">0.25</text>
<text x="85.83" y="342.6" font-size="4.8" text-anchor="start" textLength="6.34" lengthAdjust="spacingAndGlyphs" stroke-width="0.15">0.5</text>
<text x="96.44" y="342.6" font-size="4.8" text-anchor="start" textLength="8.87" lengthAdjust="spacingAndGlyphs" stroke-width="0.15">0.75</text>
<text x="111.49" y="342.6" font-size="4.8" text-anchor="start" textLength="2.54" lengthAdjust="spacingAndGlyphs" stroke-width="0.15">1</text>
<text x="103" y="285.6" font-size="6.9" text-anchor="start" textLength="16.2" lengthAdjust="spacingAndGlyphs" stroke-width="0.22">CD13</text>
<text x="0" y="0" font-size="6.3" transform="translate(8.2 332.9) rotate(-90)" textLength="52.4" lengthAdjust="spacingAndGlyphs" stroke-width="0.12">Stimulation Index</text>
<text x="53.3" y="351.8" font-size="6.8" text-anchor="start" textLength="44.4" lengthAdjust="spacingAndGlyphs" stroke-width="0.22">Dasatinib, µM</text>
<path d="M35.1 353.1 Q35.1 354.3 36.3 354.3 L117.8 354.3 Q119 354.3 119 353.1" stroke-width="0.8" fill="none"/>
<text x="49.3" y="361" font-size="6.7" text-anchor="start" textLength="53.5" lengthAdjust="spacingAndGlyphs" stroke-width="0.22">anti-IgE, 1 µg/mL</text>
<line x1="150.3" y1="281.3" x2="150.3" y2="337.8" stroke-width="0.75"/>
<line x1="149.3" y1="337.3" x2="150.3" y2="337.3" stroke-width="0.75"/>
<text x="141.64" y="338.99" font-size="4.7" text-anchor="start" textLength="6.86" lengthAdjust="spacingAndGlyphs" stroke-width="0.15">0.0</text>
<line x1="149.3" y1="326.16" x2="150.3" y2="326.16" stroke-width="0.75"/>
<text x="141.64" y="327.85" font-size="4.7" text-anchor="start" textLength="6.86" lengthAdjust="spacingAndGlyphs" stroke-width="0.15">1.0</text>
<line x1="149.3" y1="315.02" x2="150.3" y2="315.02" stroke-width="0.75"/>
<text x="141.64" y="316.71" font-size="4.7" text-anchor="start" textLength="6.86" lengthAdjust="spacingAndGlyphs" stroke-width="0.15">2.0</text>
<line x1="149.3" y1="303.88" x2="150.3" y2="303.88" stroke-width="0.75"/>
<text x="141.64" y="305.57" font-size="4.7" text-anchor="start" textLength="6.86" lengthAdjust="spacingAndGlyphs" stroke-width="0.15">3.0</text>
<line x1="149.3" y1="292.74" x2="150.3" y2="292.74" stroke-width="0.75"/>
<text x="141.64" y="294.43" font-size="4.7" text-anchor="start" textLength="6.86" lengthAdjust="spacingAndGlyphs" stroke-width="0.15">4.0</text>
<line x1="149.3" y1="281.6" x2="150.3" y2="281.6" stroke-width="0.75"/>
<text x="141.64" y="283.29" font-size="4.7" text-anchor="start" textLength="6.86" lengthAdjust="spacingAndGlyphs" stroke-width="0.15">5.0</text>
<line x1="149.85" y1="337.3" x2="244.13" y2="337.3" stroke-width="0.9"/>
<rect x="151.9" y="326.16" width="9.05" height="11.14"/>
<rect x="163.74" y="303.88" width="9.05" height="33.42"/>
<line x1="168.27" y1="303.88" x2="168.27" y2="289.62" stroke-width="0.85"/>
<line x1="166.82" y1="289.62" x2="169.72" y2="289.62" stroke-width="0.95"/>
<rect x="175.58" y="312.79" width="9.05" height="24.51"/>
<line x1="180.11" y1="312.79" x2="180.11" y2="310.23" stroke-width="0.85"/>
<line x1="178.66" y1="310.23" x2="181.56" y2="310.23" stroke-width="0.95"/>
<rect x="187.42" y="308" width="9.05" height="29.3"/>
<line x1="191.95" y1="308" x2="191.95" y2="303.43" stroke-width="0.85"/>
<line x1="190.5" y1="303.43" x2="193.4" y2="303.43" stroke-width="0.95"/>
<rect x="199.26" y="319.25" width="9.05" height="18.05"/>
<line x1="203.78" y1="319.25" x2="203.78" y2="312.24" stroke-width="0.85"/>
<line x1="202.34" y1="312.24" x2="205.23" y2="312.24" stroke-width="0.95"/>
<circle cx="203.78" cy="309.12" r="1.25"/>
<rect x="211.1" y="323.93" width="9.05" height="13.37"/>
<line x1="215.63" y1="323.93" x2="215.63" y2="321.37" stroke-width="0.85"/>
<line x1="214.18" y1="321.37" x2="217.08" y2="321.37" stroke-width="0.95"/>
<circle cx="215.63" cy="317.92" r="1.25"/>
<rect x="222.94" y="326.38" width="9.05" height="10.92"/>
<line x1="227.47" y1="326.38" x2="227.47" y2="322.6" stroke-width="0.85"/>
<line x1="226.02" y1="322.6" x2="228.91" y2="322.6" stroke-width="0.95"/>
<circle cx="227.47" cy="318.92" r="1.25"/>
<rect x="234.78" y="326.38" width="9.05" height="10.92"/>
<line x1="239.31" y1="326.38" x2="239.31" y2="322.6" stroke-width="0.85"/>
<line x1="237.86" y1="322.6" x2="240.75" y2="322.6" stroke-width="0.95"/>
<circle cx="239.31" cy="318.92" r="1.25"/>
<text x="153.92" y="343" font-size="4.8" text-anchor="start" textLength="5.02" lengthAdjust="spacingAndGlyphs" stroke-width="0.15">co</text>
<text x="165.1" y="343" font-size="4.8" text-anchor="start" textLength="6.34" lengthAdjust="spacingAndGlyphs" stroke-width="0.15">0.0</text>
<text x="175.67" y="343" font-size="4.8" text-anchor="start" textLength="8.87" lengthAdjust="spacingAndGlyphs" stroke-width="0.15">0.01</text>
<text x="188.78" y="343" font-size="4.8" text-anchor="start" textLength="6.34" lengthAdjust="spacingAndGlyphs" stroke-width="0.15">0.1</text>
<text x="199.35" y="343" font-size="4.8" text-anchor="start" textLength="8.87" lengthAdjust="spacingAndGlyphs" stroke-width="0.15">0.25</text>
<text x="212.46" y="343" font-size="4.8" text-anchor="start" textLength="6.34" lengthAdjust="spacingAndGlyphs" stroke-width="0.15">0.5</text>
<text x="223.03" y="343" font-size="4.8" text-anchor="start" textLength="8.87" lengthAdjust="spacingAndGlyphs" stroke-width="0.15">0.75</text>
<text x="238.04" y="343" font-size="4.8" text-anchor="start" textLength="2.54" lengthAdjust="spacingAndGlyphs" stroke-width="0.15">1</text>
<text x="229.7" y="285.9" font-size="6.9" text-anchor="start" textLength="16.1" lengthAdjust="spacingAndGlyphs" stroke-width="0.22">CD63</text>
<text x="0" y="0" font-size="6.3" transform="translate(134.6 333.3) rotate(-90)" textLength="51.9" lengthAdjust="spacingAndGlyphs" stroke-width="0.12">Stimulation Index</text>
<text x="180.2" y="351.8" font-size="6.8" text-anchor="start" textLength="43" lengthAdjust="spacingAndGlyphs" stroke-width="0.22">Dasatinib, µM</text>
<path d="M161.25 353.1 Q161.25 354.3 162.45 354.3 L243.05 354.3 Q244.25 354.3 244.25 353.1" stroke-width="0.8" fill="none"/>
<text x="175.75" y="361" font-size="6.7" text-anchor="start" textLength="53.5" lengthAdjust="spacingAndGlyphs" stroke-width="0.22">anti-IgE, 1 µg/mL</text>
<line x1="23.9" y1="368.9" x2="23.9" y2="428.8" stroke-width="0.75"/>
<line x1="22.9" y1="428.3" x2="23.9" y2="428.3" stroke-width="0.75"/>
<text x="15.24" y="429.99" font-size="4.7" text-anchor="start" textLength="6.86" lengthAdjust="spacingAndGlyphs" stroke-width="0.15">0.0</text>
<line x1="22.9" y1="416.48" x2="23.9" y2="416.48" stroke-width="0.75"/>
<text x="15.24" y="418.17" font-size="4.7" text-anchor="start" textLength="6.86" lengthAdjust="spacingAndGlyphs" stroke-width="0.15">2.0</text>
<line x1="22.9" y1="404.66" x2="23.9" y2="404.66" stroke-width="0.75"/>
<text x="15.24" y="406.35" font-size="4.7" text-anchor="start" textLength="6.86" lengthAdjust="spacingAndGlyphs" stroke-width="0.15">4.0</text>
<line x1="22.9" y1="392.84" x2="23.9" y2="392.84" stroke-width="0.75"/>
<text x="15.24" y="394.53" font-size="4.7" text-anchor="start" textLength="6.86" lengthAdjust="spacingAndGlyphs" stroke-width="0.15">6.0</text>
<line x1="22.9" y1="381.02" x2="23.9" y2="381.02" stroke-width="0.75"/>
<text x="15.24" y="382.71" font-size="4.7" text-anchor="start" textLength="6.86" lengthAdjust="spacingAndGlyphs" stroke-width="0.15">8.0</text>
<line x1="22.9" y1="369.2" x2="23.9" y2="369.2" stroke-width="0.75"/>
<text x="12.5" y="370.89" font-size="4.7" text-anchor="start" textLength="9.6" lengthAdjust="spacingAndGlyphs" stroke-width="0.15">10.0</text>
<line x1="23.45" y1="428.3" x2="117.56" y2="428.3" stroke-width="0.9"/>
<rect x="25.1" y="422.69" width="9" height="5.61"/>
<rect x="36.98" y="387.23" width="9" height="41.07"/>
<line x1="41.48" y1="387.23" x2="41.48" y2="374.52" stroke-width="0.85"/>
<line x1="40.03" y1="374.52" x2="42.93" y2="374.52" stroke-width="0.95"/>
<rect x="48.86" y="386.22" width="9" height="42.08"/>
<line x1="53.36" y1="386.22" x2="53.36" y2="372.92" stroke-width="0.85"/>
<line x1="51.91" y1="372.92" x2="54.81" y2="372.92" stroke-width="0.95"/>
<rect x="60.74" y="389.88" width="9" height="38.42"/>
<line x1="65.24" y1="389.88" x2="65.24" y2="374.52" stroke-width="0.85"/>
<line x1="63.79" y1="374.52" x2="66.69" y2="374.52" stroke-width="0.95"/>
<rect x="72.62" y="399.1" width="9" height="29.2"/>
<line x1="77.12" y1="399.1" x2="77.12" y2="390.42" stroke-width="0.85"/>
<line x1="75.67" y1="390.42" x2="78.57" y2="390.42" stroke-width="0.95"/>
<rect x="84.5" y="420.03" width="9" height="8.27"/>
<line x1="89" y1="420.03" x2="89" y2="414.18" stroke-width="0.85"/>
<line x1="87.55" y1="414.18" x2="90.45" y2="414.18" stroke-width="0.95"/>
<circle cx="89" cy="410.69" r="1.25"/>
<rect x="96.38" y="424.28" width="9" height="4.02"/>
<line x1="100.88" y1="424.28" x2="100.88" y2="422.39" stroke-width="0.85"/>
<line x1="99.43" y1="422.39" x2="102.33" y2="422.39" stroke-width="0.95"/>
<circle cx="100.88" cy="418.78" r="1.25"/>
<rect x="108.26" y="425.11" width="9" height="3.19"/>
<line x1="112.76" y1="425.11" x2="112.76" y2="424.04" stroke-width="0.85"/>
<line x1="111.31" y1="424.04" x2="114.21" y2="424.04" stroke-width="0.95"/>
<circle cx="112.76" cy="420.2" r="1.25"/>
<text x="27.09" y="433.6" font-size="4.8" text-anchor="start" textLength="5.02" lengthAdjust="spacingAndGlyphs" stroke-width="0.15">co</text>
<text x="38.31" y="433.6" font-size="4.8" text-anchor="start" textLength="6.34" lengthAdjust="spacingAndGlyphs" stroke-width="0.15">0.0</text>
<text x="48.92" y="433.6" font-size="4.8" text-anchor="start" textLength="8.87" lengthAdjust="spacingAndGlyphs" stroke-width="0.15">0.01</text>
<text x="62.07" y="433.6" font-size="4.8" text-anchor="start" textLength="6.34" lengthAdjust="spacingAndGlyphs" stroke-width="0.15">0.1</text>
<text x="72.68" y="433.6" font-size="4.8" text-anchor="start" textLength="8.87" lengthAdjust="spacingAndGlyphs" stroke-width="0.15">0.25</text>
<text x="85.83" y="433.6" font-size="4.8" text-anchor="start" textLength="6.34" lengthAdjust="spacingAndGlyphs" stroke-width="0.15">0.5</text>
<text x="96.44" y="433.6" font-size="4.8" text-anchor="start" textLength="8.87" lengthAdjust="spacingAndGlyphs" stroke-width="0.15">0.75</text>
<text x="111.49" y="433.6" font-size="4.8" text-anchor="start" textLength="2.54" lengthAdjust="spacingAndGlyphs" stroke-width="0.15">1</text>
<text x="99.8" y="376.2" font-size="6.9" text-anchor="start" textLength="19.4" lengthAdjust="spacingAndGlyphs" stroke-width="0.22">CD164</text>
<text x="0" y="0" font-size="6.3" transform="translate(8.2 423.5) rotate(-90)" textLength="53" lengthAdjust="spacingAndGlyphs" stroke-width="0.12">Stimulation Index</text>
<text x="53.3" y="443.2" font-size="6.8" text-anchor="start" textLength="44.4" lengthAdjust="spacingAndGlyphs" stroke-width="0.22">Dasatinib, µM</text>
<path d="M35.1 444 Q35.1 445.2 36.3 445.2 L117.8 445.2 Q119 445.2 119 444" stroke-width="0.8" fill="none"/>
<text x="49.6" y="452.3" font-size="6.7" text-anchor="start" textLength="53.2" lengthAdjust="spacingAndGlyphs" stroke-width="0.22">anti-IgE, 1 µg/mL</text>
<line x1="149.9" y1="369.1" x2="149.9" y2="428.8" stroke-width="0.75"/>
<line x1="148.9" y1="428.3" x2="149.9" y2="428.3" stroke-width="0.75"/>
<text x="141.24" y="429.99" font-size="4.7" text-anchor="start" textLength="6.86" lengthAdjust="spacingAndGlyphs" stroke-width="0.15">0.0</text>
<line x1="148.9" y1="416.52" x2="149.9" y2="416.52" stroke-width="0.75"/>
<text x="141.24" y="418.21" font-size="4.7" text-anchor="start" textLength="6.86" lengthAdjust="spacingAndGlyphs" stroke-width="0.15">1.0</text>
<line x1="148.9" y1="404.74" x2="149.9" y2="404.74" stroke-width="0.75"/>
<text x="141.24" y="406.43" font-size="4.7" text-anchor="start" textLength="6.86" lengthAdjust="spacingAndGlyphs" stroke-width="0.15">2.0</text>
<line x1="148.9" y1="392.96" x2="149.9" y2="392.96" stroke-width="0.75"/>
<text x="141.24" y="394.65" font-size="4.7" text-anchor="start" textLength="6.86" lengthAdjust="spacingAndGlyphs" stroke-width="0.15">3.0</text>
<line x1="148.9" y1="381.18" x2="149.9" y2="381.18" stroke-width="0.75"/>
<text x="141.24" y="382.87" font-size="4.7" text-anchor="start" textLength="6.86" lengthAdjust="spacingAndGlyphs" stroke-width="0.15">4.0</text>
<line x1="148.9" y1="369.4" x2="149.9" y2="369.4" stroke-width="0.75"/>
<text x="141.24" y="371.09" font-size="4.7" text-anchor="start" textLength="6.86" lengthAdjust="spacingAndGlyphs" stroke-width="0.15">5.0</text>
<line x1="149.45" y1="428.3" x2="244.13" y2="428.3" stroke-width="0.9"/>
<rect x="151.9" y="417.11" width="9.05" height="11.19"/>
<rect x="163.74" y="392.02" width="9.05" height="36.28"/>
<line x1="168.27" y1="392.02" x2="168.27" y2="383.18" stroke-width="0.85"/>
<line x1="166.82" y1="383.18" x2="169.72" y2="383.18" stroke-width="0.95"/>
<rect x="175.58" y="390.96" width="9.05" height="37.34"/>
<line x1="180.11" y1="390.96" x2="180.11" y2="381.89" stroke-width="0.85"/>
<line x1="178.66" y1="381.89" x2="181.56" y2="381.89" stroke-width="0.95"/>
<rect x="187.42" y="386.01" width="9.05" height="42.29"/>
<line x1="191.95" y1="386.01" x2="191.95" y2="376.11" stroke-width="0.85"/>
<line x1="190.5" y1="376.11" x2="193.4" y2="376.11" stroke-width="0.95"/>
<rect x="199.26" y="395.9" width="9.05" height="32.4"/>
<line x1="203.78" y1="395.9" x2="203.78" y2="388.13" stroke-width="0.85"/>
<line x1="202.34" y1="388.13" x2="205.23" y2="388.13" stroke-width="0.95"/>
<rect x="211.1" y="416.05" width="9.05" height="12.25"/>
<line x1="215.63" y1="416.05" x2="215.63" y2="410.75" stroke-width="0.85"/>
<line x1="214.18" y1="410.75" x2="217.08" y2="410.75" stroke-width="0.95"/>
<circle cx="215.63" cy="407.1" r="1.25"/>
<rect x="222.94" y="419.47" width="9.05" height="8.84"/>
<line x1="227.47" y1="419.47" x2="227.47" y2="418.4" stroke-width="0.85"/>
<line x1="226.02" y1="418.4" x2="228.91" y2="418.4" stroke-width="0.95"/>
<circle cx="227.47" cy="414.16" r="1.25"/>
<rect x="234.78" y="420.17" width="9.05" height="8.13"/>
<circle cx="239.31" cy="416.64" r="1.25"/>
<text x="153.92" y="433.6" font-size="4.8" text-anchor="start" textLength="5.02" lengthAdjust="spacingAndGlyphs" stroke-width="0.15">co</text>
<text x="165.1" y="433.6" font-size="4.8" text-anchor="start" textLength="6.34" lengthAdjust="spacingAndGlyphs" stroke-width="0.15">0.0</text>
<text x="175.67" y="433.6" font-size="4.8" text-anchor="start" textLength="8.87" lengthAdjust="spacingAndGlyphs" stroke-width="0.15">0.01</text>
<text x="188.78" y="433.6" font-size="4.8" text-anchor="start" textLength="6.34" lengthAdjust="spacingAndGlyphs" stroke-width="0.15">0.1</text>
<text x="199.35" y="433.6" font-size="4.8" text-anchor="start" textLength="8.87" lengthAdjust="spacingAndGlyphs" stroke-width="0.15">0.25</text>
<text x="212.46" y="433.6" font-size="4.8" text-anchor="start" textLength="6.34" lengthAdjust="spacingAndGlyphs" stroke-width="0.15">0.5</text>
<text x="223.03" y="433.6" font-size="4.8" text-anchor="start" textLength="8.87" lengthAdjust="spacingAndGlyphs" stroke-width="0.15">0.75</text>
<text x="238.04" y="433.6" font-size="4.8" text-anchor="start" textLength="2.54" lengthAdjust="spacingAndGlyphs" stroke-width="0.15">1</text>
<text x="222.3" y="376.9" font-size="6.9" text-anchor="start" textLength="22.6" lengthAdjust="spacingAndGlyphs" stroke-width="0.22">CD203c</text>
<text x="0" y="0" font-size="6.3" transform="translate(134.6 423.5) rotate(-90)" textLength="53" lengthAdjust="spacingAndGlyphs" stroke-width="0.12">Stimulation Index</text>
<text x="180.2" y="443.6" font-size="6.8" text-anchor="start" textLength="43" lengthAdjust="spacingAndGlyphs" stroke-width="0.22">Dasatinib, µM</text>
<path d="M161.25 444.3 Q161.25 445.5 162.45 445.5 L243.05 445.5 Q244.25 445.5 244.25 444.3" stroke-width="0.8" fill="none"/>
<text x="175.9" y="452.3" font-size="6.7" text-anchor="start" textLength="53.2" lengthAdjust="spacingAndGlyphs" stroke-width="0.22">anti-IgE, 1 µg/mL</text>
<line x1="296.8" y1="4.1" x2="296.8" y2="60.7" stroke-width="0.75"/>
<line x1="295.8" y1="60.2" x2="296.8" y2="60.2" stroke-width="0.75"/>
<text x="288.29" y="61.86" font-size="4.6" text-anchor="start" textLength="6.71" lengthAdjust="spacingAndGlyphs" stroke-width="0.15">0.0</text>
<line x1="295.8" y1="50.9" x2="296.8" y2="50.9" stroke-width="0.75"/>
<text x="288.29" y="52.56" font-size="4.6" text-anchor="start" textLength="6.71" lengthAdjust="spacingAndGlyphs" stroke-width="0.15">1.0</text>
<line x1="295.8" y1="41.6" x2="296.8" y2="41.6" stroke-width="0.75"/>
<text x="288.29" y="43.26" font-size="4.6" text-anchor="start" textLength="6.71" lengthAdjust="spacingAndGlyphs" stroke-width="0.15">2.0</text>
<line x1="295.8" y1="32.3" x2="296.8" y2="32.3" stroke-width="0.75"/>
<text x="288.29" y="33.96" font-size="4.6" text-anchor="start" textLength="6.71" lengthAdjust="spacingAndGlyphs" stroke-width="0.15">3.0</text>
<line x1="295.8" y1="23" x2="296.8" y2="23" stroke-width="0.75"/>
<text x="288.29" y="24.66" font-size="4.6" text-anchor="start" textLength="6.71" lengthAdjust="spacingAndGlyphs" stroke-width="0.15">4.0</text>
<line x1="295.8" y1="13.7" x2="296.8" y2="13.7" stroke-width="0.75"/>
<text x="288.29" y="15.36" font-size="4.6" text-anchor="start" textLength="6.71" lengthAdjust="spacingAndGlyphs" stroke-width="0.15">5.0</text>
<line x1="295.8" y1="4.4" x2="296.8" y2="4.4" stroke-width="0.75"/>
<text x="288.29" y="6.06" font-size="4.6" text-anchor="start" textLength="6.71" lengthAdjust="spacingAndGlyphs" stroke-width="0.15">6.0</text>
<line x1="296.35" y1="60.2" x2="388.26" y2="60.2" stroke-width="0.9"/>
<rect x="298.6" y="50.9" width="9" height="9.3"/>
<rect x="310.08" y="22.07" width="9" height="38.13"/>
<line x1="314.58" y1="22.07" x2="314.58" y2="10.91" stroke-width="0.85"/>
<line x1="313.13" y1="10.91" x2="316.03" y2="10.91" stroke-width="0.95"/>
<rect x="321.56" y="23.93" width="9" height="36.27"/>
<line x1="326.06" y1="23.93" x2="326.06" y2="9.98" stroke-width="0.85"/>
<line x1="324.61" y1="9.98" x2="327.51" y2="9.98" stroke-width="0.95"/>
<rect x="333.04" y="21.14" width="9" height="39.06"/>
<line x1="337.54" y1="21.14" x2="337.54" y2="6.26" stroke-width="0.85"/>
<line x1="336.09" y1="6.26" x2="338.99" y2="6.26" stroke-width="0.95"/>
<rect x="344.52" y="23.93" width="9" height="36.27"/>
<line x1="349.02" y1="23.93" x2="349.02" y2="10.91" stroke-width="0.85"/>
<line x1="347.57" y1="10.91" x2="350.47" y2="10.91" stroke-width="0.95"/>
<rect x="356" y="32.3" width="9" height="27.9"/>
<line x1="360.5" y1="32.3" x2="360.5" y2="16.49" stroke-width="0.85"/>
<line x1="359.05" y1="16.49" x2="361.95" y2="16.49" stroke-width="0.95"/>
<rect x="367.48" y="39.74" width="9" height="20.46"/>
<line x1="371.98" y1="39.74" x2="371.98" y2="24.86" stroke-width="0.85"/>
<line x1="370.53" y1="24.86" x2="373.43" y2="24.86" stroke-width="0.95"/>
<circle cx="371.98" cy="19.28" r="1.3"/>
<rect x="378.96" y="47.18" width="9" height="13.02"/>
<line x1="383.46" y1="47.18" x2="383.46" y2="43.46" stroke-width="0.85"/>
<line x1="382.01" y1="43.46" x2="384.91" y2="43.46" stroke-width="0.95"/>
<circle cx="383.46" cy="39.74" r="1.3"/>
<text x="300.3" y="65.2" font-size="5" text-anchor="start" textLength="5.61" lengthAdjust="spacingAndGlyphs" stroke-width="0.15">co</text>
<text x="311.04" y="65.2" font-size="5" text-anchor="start" textLength="7.09" lengthAdjust="spacingAndGlyphs" stroke-width="0.15">0.0</text>
<text x="321.1" y="65.2" font-size="5" text-anchor="start" textLength="9.92" lengthAdjust="spacingAndGlyphs" stroke-width="0.15">0.01</text>
<text x="334" y="65.2" font-size="5" text-anchor="start" textLength="7.09" lengthAdjust="spacingAndGlyphs" stroke-width="0.15">0.1</text>
<text x="344.06" y="65.2" font-size="5" text-anchor="start" textLength="9.92" lengthAdjust="spacingAndGlyphs" stroke-width="0.15">0.25</text>
<text x="356.96" y="65.2" font-size="5" text-anchor="start" textLength="7.09" lengthAdjust="spacingAndGlyphs" stroke-width="0.15">0.5</text>
<text x="367.02" y="65.2" font-size="5" text-anchor="start" textLength="9.92" lengthAdjust="spacingAndGlyphs" stroke-width="0.15">0.75</text>
<text x="382.04" y="65.2" font-size="5" text-anchor="start" textLength="2.84" lengthAdjust="spacingAndGlyphs" stroke-width="0.15">1</text>
<text x="374" y="10.2" font-size="6.8" text-anchor="start" textLength="16" lengthAdjust="spacingAndGlyphs" stroke-width="0.22">CD13</text>
<text x="0" y="0" font-size="6.1" transform="translate(282.5 54) rotate(-90)" textLength="50.4" lengthAdjust="spacingAndGlyphs" stroke-width="0.12">Stimulation Index</text>
<text x="326.3" y="73.6" font-size="6.6" text-anchor="start" textLength="41.7" lengthAdjust="spacingAndGlyphs" stroke-width="0.22">Dasatinib, µM</text>
<path d="M308.4 74.6 Q308.4 75.8 309.6 75.8 L388.4 75.8 Q389.6 75.8 389.6 74.6" stroke-width="0.8" fill="none"/>
<text x="321.4" y="82.9" font-size="6.4" text-anchor="start" textLength="51.2" lengthAdjust="spacingAndGlyphs" stroke-width="0.22">rBet v 1, 1 µg/mL</text>
<line x1="423.4" y1="2.8" x2="423.4" y2="60.7" stroke-width="0.75"/>
<line x1="422.4" y1="60.2" x2="423.4" y2="60.2" stroke-width="0.75"/>
<text x="414.89" y="61.86" font-size="4.6" text-anchor="start" textLength="6.71" lengthAdjust="spacingAndGlyphs" stroke-width="0.15">0.0</text>
<line x1="422.4" y1="45.93" x2="423.4" y2="45.93" stroke-width="0.75"/>
<text x="414.89" y="47.58" font-size="4.6" text-anchor="start" textLength="6.71" lengthAdjust="spacingAndGlyphs" stroke-width="0.15">1.0</text>
<line x1="422.4" y1="31.65" x2="423.4" y2="31.65" stroke-width="0.75"/>
<text x="414.89" y="33.31" font-size="4.6" text-anchor="start" textLength="6.71" lengthAdjust="spacingAndGlyphs" stroke-width="0.15">2.0</text>
<line x1="422.4" y1="17.38" x2="423.4" y2="17.38" stroke-width="0.75"/>
<text x="414.89" y="19.03" font-size="4.6" text-anchor="start" textLength="6.71" lengthAdjust="spacingAndGlyphs" stroke-width="0.15">3.0</text>
<line x1="422.4" y1="3.1" x2="423.4" y2="3.1" stroke-width="0.75"/>
<text x="414.89" y="4.76" font-size="4.6" text-anchor="start" textLength="6.71" lengthAdjust="spacingAndGlyphs" stroke-width="0.15">4.0</text>
<line x1="422.95" y1="60.2" x2="515.16" y2="60.2" stroke-width="0.9"/>
<rect x="425.5" y="45.93" width="9" height="14.28"/>
<rect x="436.98" y="23.09" width="9" height="37.12"/>
<line x1="441.48" y1="23.09" x2="441.48" y2="15.95" stroke-width="0.85"/>
<line x1="440.03" y1="15.95" x2="442.93" y2="15.95" stroke-width="0.95"/>
<rect x="448.46" y="28.79" width="9" height="31.41"/>
<line x1="452.96" y1="28.79" x2="452.96" y2="21.66" stroke-width="0.85"/>
<line x1="451.51" y1="21.66" x2="454.41" y2="21.66" stroke-width="0.95"/>
<rect x="459.94" y="17.38" width="9" height="42.83"/>
<line x1="464.44" y1="17.38" x2="464.44" y2="7.38" stroke-width="0.85"/>
<line x1="462.99" y1="7.38" x2="465.89" y2="7.38" stroke-width="0.95"/>
<rect x="471.42" y="28.79" width="9" height="31.41"/>
<line x1="475.92" y1="28.79" x2="475.92" y2="18.8" stroke-width="0.85"/>
<line x1="474.47" y1="18.8" x2="477.37" y2="18.8" stroke-width="0.95"/>
<rect x="482.9" y="34.51" width="9" height="25.7"/>
<line x1="487.4" y1="34.51" x2="487.4" y2="24.51" stroke-width="0.85"/>
<line x1="485.95" y1="24.51" x2="488.85" y2="24.51" stroke-width="0.95"/>
<rect x="494.38" y="43.07" width="9" height="17.13"/>
<line x1="498.88" y1="43.07" x2="498.88" y2="37.36" stroke-width="0.85"/>
<line x1="497.43" y1="37.36" x2="500.33" y2="37.36" stroke-width="0.95"/>
<circle cx="498.88" cy="32.36" r="1.3"/>
<rect x="505.86" y="44.5" width="9" height="15.7"/>
<line x1="510.36" y1="44.5" x2="510.36" y2="37.36" stroke-width="0.85"/>
<line x1="508.91" y1="37.36" x2="511.81" y2="37.36" stroke-width="0.95"/>
<circle cx="510.36" cy="32.36" r="1.3"/>
<text x="427.19" y="65.2" font-size="5" text-anchor="start" textLength="5.61" lengthAdjust="spacingAndGlyphs" stroke-width="0.15">co</text>
<text x="437.94" y="65.2" font-size="5" text-anchor="start" textLength="7.09" lengthAdjust="spacingAndGlyphs" stroke-width="0.15">0.0</text>
<text x="448" y="65.2" font-size="5" text-anchor="start" textLength="9.92" lengthAdjust="spacingAndGlyphs" stroke-width="0.15">0.01</text>
<text x="460.9" y="65.2" font-size="5" text-anchor="start" textLength="7.09" lengthAdjust="spacingAndGlyphs" stroke-width="0.15">0.1</text>
<text x="470.96" y="65.2" font-size="5" text-anchor="start" textLength="9.92" lengthAdjust="spacingAndGlyphs" stroke-width="0.15">0.25</text>
<text x="483.86" y="65.2" font-size="5" text-anchor="start" textLength="7.09" lengthAdjust="spacingAndGlyphs" stroke-width="0.15">0.5</text>
<text x="493.92" y="65.2" font-size="5" text-anchor="start" textLength="9.92" lengthAdjust="spacingAndGlyphs" stroke-width="0.15">0.75</text>
<text x="508.94" y="65.2" font-size="5" text-anchor="start" textLength="2.84" lengthAdjust="spacingAndGlyphs" stroke-width="0.15">1</text>
<text x="501.3" y="9.95" font-size="6.8" text-anchor="start" textLength="15.7" lengthAdjust="spacingAndGlyphs" stroke-width="0.22">CD63</text>
<text x="0" y="0" font-size="6.1" transform="translate(408.9 54) rotate(-90)" textLength="50.4" lengthAdjust="spacingAndGlyphs" stroke-width="0.12">Stimulation Index</text>
<text x="453.2" y="73.6" font-size="6.6" text-anchor="start" textLength="41.7" lengthAdjust="spacingAndGlyphs" stroke-width="0.22">Dasatinib, µM</text>
<path d="M435.3 74.6 Q435.3 75.8 436.5 75.8 L515.3 75.8 Q516.5 75.8 516.5 74.6" stroke-width="0.8" fill="none"/>
<text x="448.3" y="82.9" font-size="6.4" text-anchor="start" textLength="51.2" lengthAdjust="spacingAndGlyphs" stroke-width="0.22">rBet v 1, 1 µg/mL</text>
<line x1="296.8" y1="91.4" x2="296.8" y2="148.5" stroke-width="0.75"/>
<line x1="295.8" y1="148" x2="296.8" y2="148" stroke-width="0.75"/>
<text x="288.29" y="149.66" font-size="4.6" text-anchor="start" textLength="6.71" lengthAdjust="spacingAndGlyphs" stroke-width="0.15">0.0</text>
<line x1="295.8" y1="136.74" x2="296.8" y2="136.74" stroke-width="0.75"/>
<text x="288.29" y="138.4" font-size="4.6" text-anchor="start" textLength="6.71" lengthAdjust="spacingAndGlyphs" stroke-width="0.15">2.0</text>
<line x1="295.8" y1="125.48" x2="296.8" y2="125.48" stroke-width="0.75"/>
<text x="288.29" y="127.14" font-size="4.6" text-anchor="start" textLength="6.71" lengthAdjust="spacingAndGlyphs" stroke-width="0.15">4.0</text>
<line x1="295.8" y1="114.22" x2="296.8" y2="114.22" stroke-width="0.75"/>
<text x="288.29" y="115.88" font-size="4.6" text-anchor="start" textLength="6.71" lengthAdjust="spacingAndGlyphs" stroke-width="0.15">6.0</text>
<line x1="295.8" y1="102.96" x2="296.8" y2="102.96" stroke-width="0.75"/>
<text x="288.29" y="104.62" font-size="4.6" text-anchor="start" textLength="6.71" lengthAdjust="spacingAndGlyphs" stroke-width="0.15">8.0</text>
<line x1="295.8" y1="91.7" x2="296.8" y2="91.7" stroke-width="0.75"/>
<text x="285.6" y="93.36" font-size="4.6" text-anchor="start" textLength="9.4" lengthAdjust="spacingAndGlyphs" stroke-width="0.15">10.0</text>
<line x1="296.35" y1="148" x2="388.26" y2="148" stroke-width="0.9"/>
<rect x="298.6" y="142.37" width="9" height="5.63"/>
<rect x="310.08" y="112.53" width="9" height="35.47"/>
<line x1="314.58" y1="112.53" x2="314.58" y2="97.33" stroke-width="0.85"/>
<line x1="313.13" y1="97.33" x2="316.03" y2="97.33" stroke-width="0.95"/>
<rect x="321.56" y="109.15" width="9" height="38.85"/>
<line x1="326.06" y1="109.15" x2="326.06" y2="94.52" stroke-width="0.85"/>
<line x1="324.61" y1="94.52" x2="327.51" y2="94.52" stroke-width="0.95"/>
<rect x="333.04" y="108.59" width="9" height="39.41"/>
<line x1="337.54" y1="108.59" x2="337.54" y2="97.33" stroke-width="0.85"/>
<line x1="336.09" y1="97.33" x2="338.99" y2="97.33" stroke-width="0.95"/>
<rect x="344.52" y="110.28" width="9" height="37.72"/>
<line x1="349.02" y1="110.28" x2="349.02" y2="99.02" stroke-width="0.85"/>
<line x1="347.57" y1="99.02" x2="350.47" y2="99.02" stroke-width="0.95"/>
<rect x="356" y="124.35" width="9" height="23.65"/>
<line x1="360.5" y1="124.35" x2="360.5" y2="109.15" stroke-width="0.85"/>
<line x1="359.05" y1="109.15" x2="361.95" y2="109.15" stroke-width="0.95"/>
<rect x="367.48" y="133.93" width="9" height="14.07"/>
<line x1="371.98" y1="133.93" x2="371.98" y2="123.79" stroke-width="0.85"/>
<line x1="370.53" y1="123.79" x2="373.43" y2="123.79" stroke-width="0.95"/>
<circle cx="371.98" cy="119.85" r="1.3"/>
<rect x="378.96" y="138.99" width="9" height="9.01"/>
<line x1="383.46" y1="138.99" x2="383.46" y2="132.8" stroke-width="0.85"/>
<line x1="382.01" y1="132.8" x2="384.91" y2="132.8" stroke-width="0.95"/>
<circle cx="383.46" cy="128.86" r="1.3"/>
<text x="300.3" y="153" font-size="5" text-anchor="start" textLength="5.61" lengthAdjust="spacingAndGlyphs" stroke-width="0.15">co</text>
<text x="311.04" y="153" font-size="5" text-anchor="start" textLength="7.09" lengthAdjust="spacingAndGlyphs" stroke-width="0.15">0.0</text>
<text x="321.1" y="153" font-size="5" text-anchor="start" textLength="9.92" lengthAdjust="spacingAndGlyphs" stroke-width="0.15">0.01</text>
<text x="334" y="153" font-size="5" text-anchor="start" textLength="7.09" lengthAdjust="spacingAndGlyphs" stroke-width="0.15">0.1</text>
<text x="344.06" y="153" font-size="5" text-anchor="start" textLength="9.92" lengthAdjust="spacingAndGlyphs" stroke-width="0.15">0.25</text>
<text x="356.96" y="153" font-size="5" text-anchor="start" textLength="7.09" lengthAdjust="spacingAndGlyphs" stroke-width="0.15">0.5</text>
<text x="367.02" y="153" font-size="5" text-anchor="start" textLength="9.92" lengthAdjust="spacingAndGlyphs" stroke-width="0.15">0.75</text>
<text x="382.04" y="153" font-size="5" text-anchor="start" textLength="2.84" lengthAdjust="spacingAndGlyphs" stroke-width="0.15">1</text>
<text x="370.3" y="97.15" font-size="6.8" text-anchor="start" textLength="19.7" lengthAdjust="spacingAndGlyphs" stroke-width="0.22">CD164</text>
<text x="0" y="0" font-size="6.1" transform="translate(282.5 141.8) rotate(-90)" textLength="50.4" lengthAdjust="spacingAndGlyphs" stroke-width="0.12">Stimulation Index</text>
<text x="326.3" y="161.9" font-size="6.6" text-anchor="start" textLength="41.7" lengthAdjust="spacingAndGlyphs" stroke-width="0.22">Dasatinib, µM</text>
<path d="M308.4 162.6 Q308.4 163.8 309.6 163.8 L388.4 163.8 Q389.6 163.8 389.6 162.6" stroke-width="0.8" fill="none"/>
<text x="321.4" y="170.9" font-size="6.4" text-anchor="start" textLength="51.2" lengthAdjust="spacingAndGlyphs" stroke-width="0.22">rBet v 1, 1 µg/mL</text>
<line x1="423.4" y1="91.4" x2="423.4" y2="148.5" stroke-width="0.75"/>
<line x1="422.4" y1="148" x2="423.4" y2="148" stroke-width="0.75"/>
<text x="414.89" y="149.66" font-size="4.6" text-anchor="start" textLength="6.71" lengthAdjust="spacingAndGlyphs" stroke-width="0.15">0.0</text>
<line x1="422.4" y1="138.62" x2="423.4" y2="138.62" stroke-width="0.75"/>
<text x="414.89" y="140.27" font-size="4.6" text-anchor="start" textLength="6.71" lengthAdjust="spacingAndGlyphs" stroke-width="0.15">1.0</text>
<line x1="422.4" y1="129.23" x2="423.4" y2="129.23" stroke-width="0.75"/>
<text x="414.89" y="130.89" font-size="4.6" text-anchor="start" textLength="6.71" lengthAdjust="spacingAndGlyphs" stroke-width="0.15">2.0</text>
<line x1="422.4" y1="119.85" x2="423.4" y2="119.85" stroke-width="0.75"/>
<text x="414.89" y="121.51" font-size="4.6" text-anchor="start" textLength="6.71" lengthAdjust="spacingAndGlyphs" stroke-width="0.15">3.0</text>
<line x1="422.4" y1="110.47" x2="423.4" y2="110.47" stroke-width="0.75"/>
<text x="414.89" y="112.12" font-size="4.6" text-anchor="start" textLength="6.71" lengthAdjust="spacingAndGlyphs" stroke-width="0.15">4.0</text>
<line x1="422.4" y1="101.08" x2="423.4" y2="101.08" stroke-width="0.75"/>
<text x="414.89" y="102.74" font-size="4.6" text-anchor="start" textLength="6.71" lengthAdjust="spacingAndGlyphs" stroke-width="0.15">5.0</text>
<line x1="422.4" y1="91.7" x2="423.4" y2="91.7" stroke-width="0.75"/>
<text x="414.89" y="93.36" font-size="4.6" text-anchor="start" textLength="6.71" lengthAdjust="spacingAndGlyphs" stroke-width="0.15">6.0</text>
<line x1="422.95" y1="148" x2="515.16" y2="148" stroke-width="0.9"/>
<rect x="425.5" y="138.62" width="9" height="9.38"/>
<rect x="436.98" y="109.53" width="9" height="38.47"/>
<line x1="441.48" y1="109.53" x2="441.48" y2="100.15" stroke-width="0.85"/>
<line x1="440.03" y1="100.15" x2="442.93" y2="100.15" stroke-width="0.95"/>
<rect x="448.46" y="108.59" width="9" height="39.41"/>
<line x1="452.96" y1="108.59" x2="452.96" y2="99.21" stroke-width="0.85"/>
<line x1="451.51" y1="99.21" x2="454.41" y2="99.21" stroke-width="0.95"/>
<rect x="459.94" y="103.9" width="9" height="44.1"/>
<line x1="464.44" y1="103.9" x2="464.44" y2="94.52" stroke-width="0.85"/>
<line x1="462.99" y1="94.52" x2="465.89" y2="94.52" stroke-width="0.95"/>
<rect x="471.42" y="107.65" width="9" height="40.35"/>
<line x1="475.92" y1="107.65" x2="475.92" y2="102.02" stroke-width="0.85"/>
<line x1="474.47" y1="102.02" x2="477.37" y2="102.02" stroke-width="0.95"/>
<rect x="482.9" y="121.73" width="9" height="26.27"/>
<line x1="487.4" y1="121.73" x2="487.4" y2="112.34" stroke-width="0.85"/>
<line x1="485.95" y1="112.34" x2="488.85" y2="112.34" stroke-width="0.95"/>
<rect x="494.38" y="130.17" width="9" height="17.83"/>
<line x1="498.88" y1="130.17" x2="498.88" y2="122.66" stroke-width="0.85"/>
<line x1="497.43" y1="122.66" x2="500.33" y2="122.66" stroke-width="0.95"/>
<circle cx="498.88" cy="117.03" r="1.3"/>
<rect x="505.86" y="136.74" width="9" height="11.26"/>
<line x1="510.36" y1="136.74" x2="510.36" y2="131.11" stroke-width="0.85"/>
<line x1="508.91" y1="131.11" x2="511.81" y2="131.11" stroke-width="0.95"/>
<circle cx="510.36" cy="125.48" r="1.3"/>
<text x="427.19" y="153" font-size="5" text-anchor="start" textLength="5.61" lengthAdjust="spacingAndGlyphs" stroke-width="0.15">co</text>
<text x="437.94" y="153" font-size="5" text-anchor="start" textLength="7.09" lengthAdjust="spacingAndGlyphs" stroke-width="0.15">0.0</text>
<text x="448" y="153" font-size="5" text-anchor="start" textLength="9.92" lengthAdjust="spacingAndGlyphs" stroke-width="0.15">0.01</text>
<text x="460.9" y="153" font-size="5" text-anchor="start" textLength="7.09" lengthAdjust="spacingAndGlyphs" stroke-width="0.15">0.1</text>
<text x="470.96" y="153" font-size="5" text-anchor="start" textLength="9.92" lengthAdjust="spacingAndGlyphs" stroke-width="0.15">0.25</text>
<text x="483.86" y="153" font-size="5" text-anchor="start" textLength="7.09" lengthAdjust="spacingAndGlyphs" stroke-width="0.15">0.5</text>
<text x="493.92" y="153" font-size="5" text-anchor="start" textLength="9.92" lengthAdjust="spacingAndGlyphs" stroke-width="0.15">0.75</text>
<text x="508.94" y="153" font-size="5" text-anchor="start" textLength="2.84" lengthAdjust="spacingAndGlyphs" stroke-width="0.15">1</text>
<text x="497.2" y="96.65" font-size="6.8" text-anchor="start" textLength="23.2" lengthAdjust="spacingAndGlyphs" stroke-width="0.22">CD203c</text>
<text x="0" y="0" font-size="6.1" transform="translate(408.9 141.8) rotate(-90)" textLength="50.4" lengthAdjust="spacingAndGlyphs" stroke-width="0.12">Stimulation Index</text>
<text x="453.2" y="161.9" font-size="6.6" text-anchor="start" textLength="41.7" lengthAdjust="spacingAndGlyphs" stroke-width="0.22">Dasatinib, µM</text>
<path d="M435.3 162.6 Q435.3 163.8 436.5 163.8 L515.3 163.8 Q516.5 163.8 516.5 162.6" stroke-width="0.8" fill="none"/>
<text x="448.3" y="170.9" font-size="6.4" text-anchor="start" textLength="51.2" lengthAdjust="spacingAndGlyphs" stroke-width="0.22">rBet v 1, 1 µg/mL</text>
<line x1="296.8" y1="180.6" x2="296.8" y2="238.5" stroke-width="0.75"/>
<line x1="295.8" y1="238" x2="296.8" y2="238" stroke-width="0.75"/>
<text x="288.29" y="239.66" font-size="4.6" text-anchor="start" textLength="6.71" lengthAdjust="spacingAndGlyphs" stroke-width="0.15">0.0</text>
<line x1="295.8" y1="223.72" x2="296.8" y2="223.72" stroke-width="0.75"/>
<text x="288.29" y="225.38" font-size="4.6" text-anchor="start" textLength="6.71" lengthAdjust="spacingAndGlyphs" stroke-width="0.15">1.0</text>
<line x1="295.8" y1="209.45" x2="296.8" y2="209.45" stroke-width="0.75"/>
<text x="288.29" y="211.11" font-size="4.6" text-anchor="start" textLength="6.71" lengthAdjust="spacingAndGlyphs" stroke-width="0.15">2.0</text>
<line x1="295.8" y1="195.18" x2="296.8" y2="195.18" stroke-width="0.75"/>
<text x="288.29" y="196.83" font-size="4.6" text-anchor="start" textLength="6.71" lengthAdjust="spacingAndGlyphs" stroke-width="0.15">3.0</text>
<line x1="295.8" y1="180.9" x2="296.8" y2="180.9" stroke-width="0.75"/>
<text x="288.29" y="182.56" font-size="4.6" text-anchor="start" textLength="6.71" lengthAdjust="spacingAndGlyphs" stroke-width="0.15">4.0</text>
<line x1="296.35" y1="238" x2="388.26" y2="238" stroke-width="0.9"/>
<rect x="298.6" y="223.72" width="9" height="14.27"/>
<rect x="310.08" y="202.31" width="9" height="35.69"/>
<line x1="314.58" y1="202.31" x2="314.58" y2="196.6" stroke-width="0.85"/>
<line x1="313.13" y1="196.6" x2="316.03" y2="196.6" stroke-width="0.95"/>
<rect x="321.56" y="200.88" width="9" height="37.11"/>
<line x1="326.06" y1="200.88" x2="326.06" y2="193.75" stroke-width="0.85"/>
<line x1="324.61" y1="193.75" x2="327.51" y2="193.75" stroke-width="0.95"/>
<rect x="333.04" y="200.88" width="9" height="37.11"/>
<line x1="337.54" y1="200.88" x2="337.54" y2="193.75" stroke-width="0.85"/>
<line x1="336.09" y1="193.75" x2="338.99" y2="193.75" stroke-width="0.95"/>
<rect x="344.52" y="203.74" width="9" height="34.26"/>
<line x1="349.02" y1="203.74" x2="349.02" y2="196.6" stroke-width="0.85"/>
<line x1="347.57" y1="196.6" x2="350.47" y2="196.6" stroke-width="0.95"/>
<rect x="356" y="212.31" width="9" height="25.69"/>
<line x1="360.5" y1="212.31" x2="360.5" y2="200.88" stroke-width="0.85"/>
<line x1="359.05" y1="200.88" x2="361.95" y2="200.88" stroke-width="0.95"/>
<circle cx="360.5" cy="195.18" r="1.3"/>
<rect x="367.48" y="218.02" width="9" height="19.98"/>
<line x1="371.98" y1="218.02" x2="371.98" y2="212.31" stroke-width="0.85"/>
<line x1="370.53" y1="212.31" x2="373.43" y2="212.31" stroke-width="0.95"/>
<circle cx="371.98" cy="208.02" r="1.3"/>
<rect x="378.96" y="223.72" width="9" height="14.27"/>
<line x1="383.46" y1="223.72" x2="383.46" y2="220.87" stroke-width="0.85"/>
<line x1="382.01" y1="220.87" x2="384.91" y2="220.87" stroke-width="0.95"/>
<circle cx="383.46" cy="216.59" r="1.3"/>
<text x="300.3" y="243" font-size="5" text-anchor="start" textLength="5.61" lengthAdjust="spacingAndGlyphs" stroke-width="0.15">co</text>
<text x="311.04" y="243" font-size="5" text-anchor="start" textLength="7.09" lengthAdjust="spacingAndGlyphs" stroke-width="0.15">0.0</text>
<text x="321.1" y="243" font-size="5" text-anchor="start" textLength="9.92" lengthAdjust="spacingAndGlyphs" stroke-width="0.15">0.01</text>
<text x="334" y="243" font-size="5" text-anchor="start" textLength="7.09" lengthAdjust="spacingAndGlyphs" stroke-width="0.15">0.1</text>
<text x="344.06" y="243" font-size="5" text-anchor="start" textLength="9.92" lengthAdjust="spacingAndGlyphs" stroke-width="0.15">0.25</text>
<text x="356.96" y="243" font-size="5" text-anchor="start" textLength="7.09" lengthAdjust="spacingAndGlyphs" stroke-width="0.15">0.5</text>
<text x="367.02" y="243" font-size="5" text-anchor="start" textLength="9.92" lengthAdjust="spacingAndGlyphs" stroke-width="0.15">0.75</text>
<text x="382.04" y="243" font-size="5" text-anchor="start" textLength="2.84" lengthAdjust="spacingAndGlyphs" stroke-width="0.15">1</text>
<text x="374" y="187.65" font-size="6.8" text-anchor="start" textLength="16" lengthAdjust="spacingAndGlyphs" stroke-width="0.22">CD13</text>
<text x="0" y="0" font-size="6.1" transform="translate(282.5 231.8) rotate(-90)" textLength="50.4" lengthAdjust="spacingAndGlyphs" stroke-width="0.12">Stimulation Index</text>
<text x="326.3" y="251.9" font-size="6.6" text-anchor="start" textLength="41.7" lengthAdjust="spacingAndGlyphs" stroke-width="0.22">Dasatinib, µM</text>
<path d="M308.4 253.3 Q308.4 254.5 309.6 254.5 L388.4 254.5 Q389.6 254.5 389.6 253.3" stroke-width="0.8" fill="none"/>
<text x="319.4" y="261.8" font-size="6.4" text-anchor="start" textLength="54.6" lengthAdjust="spacingAndGlyphs" stroke-width="0.22">nDer p 1, 1 µg/mL</text>
<line x1="423.4" y1="180.6" x2="423.4" y2="238.5" stroke-width="0.75"/>
<line x1="422.4" y1="238" x2="423.4" y2="238" stroke-width="0.75"/>
<text x="414.89" y="239.66" font-size="4.6" text-anchor="start" textLength="6.71" lengthAdjust="spacingAndGlyphs" stroke-width="0.15">0.0</text>
<line x1="422.4" y1="226.58" x2="423.4" y2="226.58" stroke-width="0.75"/>
<text x="414.89" y="228.24" font-size="4.6" text-anchor="start" textLength="6.71" lengthAdjust="spacingAndGlyphs" stroke-width="0.15">1.0</text>
<line x1="422.4" y1="215.16" x2="423.4" y2="215.16" stroke-width="0.75"/>
<text x="414.89" y="216.82" font-size="4.6" text-anchor="start" textLength="6.71" lengthAdjust="spacingAndGlyphs" stroke-width="0.15">2.0</text>
<line x1="422.4" y1="203.74" x2="423.4" y2="203.74" stroke-width="0.75"/>
<text x="414.89" y="205.4" font-size="4.6" text-anchor="start" textLength="6.71" lengthAdjust="spacingAndGlyphs" stroke-width="0.15">3.0</text>
<line x1="422.4" y1="192.32" x2="423.4" y2="192.32" stroke-width="0.75"/>
<text x="414.89" y="193.98" font-size="4.6" text-anchor="start" textLength="6.71" lengthAdjust="spacingAndGlyphs" stroke-width="0.15">4.0</text>
<line x1="422.4" y1="180.9" x2="423.4" y2="180.9" stroke-width="0.75"/>
<text x="414.89" y="182.56" font-size="4.6" text-anchor="start" textLength="6.71" lengthAdjust="spacingAndGlyphs" stroke-width="0.15">5.0</text>
<line x1="422.95" y1="238" x2="515.16" y2="238" stroke-width="0.9"/>
<rect x="425.5" y="226.58" width="9" height="11.42"/>
<rect x="436.98" y="204.88" width="9" height="33.12"/>
<line x1="441.48" y1="204.88" x2="441.48" y2="195.75" stroke-width="0.85"/>
<line x1="440.03" y1="195.75" x2="442.93" y2="195.75" stroke-width="0.95"/>
<rect x="448.46" y="200.31" width="9" height="37.69"/>
<line x1="452.96" y1="200.31" x2="452.96" y2="192.32" stroke-width="0.85"/>
<line x1="451.51" y1="192.32" x2="454.41" y2="192.32" stroke-width="0.95"/>
<rect x="459.94" y="201.46" width="9" height="36.54"/>
<line x1="464.44" y1="201.46" x2="464.44" y2="190.04" stroke-width="0.85"/>
<line x1="462.99" y1="190.04" x2="465.89" y2="190.04" stroke-width="0.95"/>
<rect x="471.42" y="206.02" width="9" height="31.98"/>
<line x1="475.92" y1="206.02" x2="475.92" y2="187.75" stroke-width="0.85"/>
<line x1="474.47" y1="187.75" x2="477.37" y2="187.75" stroke-width="0.95"/>
<rect x="482.9" y="217.44" width="9" height="20.56"/>
<line x1="487.4" y1="217.44" x2="487.4" y2="209.45" stroke-width="0.85"/>
<line x1="485.95" y1="209.45" x2="488.85" y2="209.45" stroke-width="0.95"/>
<circle cx="487.4" cy="206.02" r="1.3"/>
<rect x="494.38" y="220.87" width="9" height="17.13"/>
<line x1="498.88" y1="220.87" x2="498.88" y2="212.88" stroke-width="0.85"/>
<line x1="497.43" y1="212.88" x2="500.33" y2="212.88" stroke-width="0.95"/>
<circle cx="498.88" cy="208.31" r="1.3"/>
<rect x="505.86" y="223.15" width="9" height="14.85"/>
<line x1="510.36" y1="223.15" x2="510.36" y2="215.16" stroke-width="0.85"/>
<line x1="508.91" y1="215.16" x2="511.81" y2="215.16" stroke-width="0.95"/>
<circle cx="510.36" cy="210.59" r="1.3"/>
<text x="427.19" y="243" font-size="5" text-anchor="start" textLength="5.61" lengthAdjust="spacingAndGlyphs" stroke-width="0.15">co</text>
<text x="437.94" y="243" font-size="5" text-anchor="start" textLength="7.09" lengthAdjust="spacingAndGlyphs" stroke-width="0.15">0.0</text>
<text x="448" y="243" font-size="5" text-anchor="start" textLength="9.92" lengthAdjust="spacingAndGlyphs" stroke-width="0.15">0.01</text>
<text x="460.9" y="243" font-size="5" text-anchor="start" textLength="7.09" lengthAdjust="spacingAndGlyphs" stroke-width="0.15">0.1</text>
<text x="470.96" y="243" font-size="5" text-anchor="start" textLength="9.92" lengthAdjust="spacingAndGlyphs" stroke-width="0.15">0.25</text>
<text x="483.86" y="243" font-size="5" text-anchor="start" textLength="7.09" lengthAdjust="spacingAndGlyphs" stroke-width="0.15">0.5</text>
<text x="493.92" y="243" font-size="5" text-anchor="start" textLength="9.92" lengthAdjust="spacingAndGlyphs" stroke-width="0.15">0.75</text>
<text x="508.94" y="243" font-size="5" text-anchor="start" textLength="2.84" lengthAdjust="spacingAndGlyphs" stroke-width="0.15">1</text>
<text x="501.3" y="187.55" font-size="6.8" text-anchor="start" textLength="15.7" lengthAdjust="spacingAndGlyphs" stroke-width="0.22">CD63</text>
<text x="0" y="0" font-size="6.1" transform="translate(408.9 231.8) rotate(-90)" textLength="50.4" lengthAdjust="spacingAndGlyphs" stroke-width="0.12">Stimulation Index</text>
<text x="453.2" y="251.9" font-size="6.6" text-anchor="start" textLength="41.7" lengthAdjust="spacingAndGlyphs" stroke-width="0.22">Dasatinib, µM</text>
<path d="M435.3 253.3 Q435.3 254.5 436.5 254.5 L515.3 254.5 Q516.5 254.5 516.5 253.3" stroke-width="0.8" fill="none"/>
<text x="446.3" y="261.8" font-size="6.4" text-anchor="start" textLength="54.6" lengthAdjust="spacingAndGlyphs" stroke-width="0.22">nDer p 1, 1 µg/mL</text>
<line x1="296.8" y1="268.8" x2="296.8" y2="326.9" stroke-width="0.75"/>
<line x1="295.8" y1="326.4" x2="296.8" y2="326.4" stroke-width="0.75"/>
<text x="288.29" y="328.06" font-size="4.6" text-anchor="start" textLength="6.71" lengthAdjust="spacingAndGlyphs" stroke-width="0.15">0.0</text>
<line x1="295.8" y1="316.85" x2="296.8" y2="316.85" stroke-width="0.75"/>
<text x="288.29" y="318.51" font-size="4.6" text-anchor="start" textLength="6.71" lengthAdjust="spacingAndGlyphs" stroke-width="0.15">2.0</text>
<line x1="295.8" y1="307.3" x2="296.8" y2="307.3" stroke-width="0.75"/>
<text x="288.29" y="308.96" font-size="4.6" text-anchor="start" textLength="6.71" lengthAdjust="spacingAndGlyphs" stroke-width="0.15">4.0</text>
<line x1="295.8" y1="297.75" x2="296.8" y2="297.75" stroke-width="0.75"/>
<text x="288.29" y="299.41" font-size="4.6" text-anchor="start" textLength="6.71" lengthAdjust="spacingAndGlyphs" stroke-width="0.15">6.0</text>
<line x1="295.8" y1="288.2" x2="296.8" y2="288.2" stroke-width="0.75"/>
<text x="288.29" y="289.86" font-size="4.6" text-anchor="start" textLength="6.71" lengthAdjust="spacingAndGlyphs" stroke-width="0.15">8.0</text>
<line x1="295.8" y1="278.65" x2="296.8" y2="278.65" stroke-width="0.75"/>
<text x="285.6" y="280.31" font-size="4.6" text-anchor="start" textLength="9.4" lengthAdjust="spacingAndGlyphs" stroke-width="0.15">10.0</text>
<line x1="295.8" y1="269.1" x2="296.8" y2="269.1" stroke-width="0.75"/>
<text x="285.6" y="270.76" font-size="4.6" text-anchor="start" textLength="9.4" lengthAdjust="spacingAndGlyphs" stroke-width="0.15">12.0</text>
<line x1="296.35" y1="326.4" x2="388.26" y2="326.4" stroke-width="0.9"/>
<rect x="298.6" y="321.62" width="9" height="4.77"/>
<rect x="310.08" y="297.27" width="9" height="29.13"/>
<line x1="314.58" y1="297.27" x2="314.58" y2="281.99" stroke-width="0.85"/>
<line x1="313.13" y1="281.99" x2="316.03" y2="281.99" stroke-width="0.95"/>
<rect x="321.56" y="293.45" width="9" height="32.95"/>
<line x1="326.06" y1="293.45" x2="326.06" y2="276.26" stroke-width="0.85"/>
<line x1="324.61" y1="276.26" x2="327.51" y2="276.26" stroke-width="0.95"/>
<rect x="333.04" y="294.41" width="9" height="31.99"/>
<line x1="337.54" y1="294.41" x2="337.54" y2="277.22" stroke-width="0.85"/>
<line x1="336.09" y1="277.22" x2="338.99" y2="277.22" stroke-width="0.95"/>
<rect x="344.52" y="299.66" width="9" height="26.74"/>
<line x1="349.02" y1="299.66" x2="349.02" y2="282.95" stroke-width="0.85"/>
<line x1="347.57" y1="282.95" x2="350.47" y2="282.95" stroke-width="0.95"/>
<rect x="356" y="309.69" width="9" height="16.71"/>
<line x1="360.5" y1="309.69" x2="360.5" y2="295.84" stroke-width="0.85"/>
<line x1="359.05" y1="295.84" x2="361.95" y2="295.84" stroke-width="0.95"/>
<circle cx="360.5" cy="292.02" r="1.3"/>
<rect x="367.48" y="316.85" width="9" height="9.55"/>
<line x1="371.98" y1="316.85" x2="371.98" y2="310.16" stroke-width="0.85"/>
<line x1="370.53" y1="310.16" x2="373.43" y2="310.16" stroke-width="0.95"/>
<circle cx="371.98" cy="306.82" r="1.3"/>
<rect x="378.96" y="322.1" width="9" height="4.3"/>
<line x1="383.46" y1="322.1" x2="383.46" y2="318.76" stroke-width="0.85"/>
<line x1="382.01" y1="318.76" x2="384.91" y2="318.76" stroke-width="0.95"/>
<circle cx="383.46" cy="315.42" r="1.3"/>
<text x="300.3" y="331.4" font-size="5" text-anchor="start" textLength="5.61" lengthAdjust="spacingAndGlyphs" stroke-width="0.15">co</text>
<text x="311.04" y="331.4" font-size="5" text-anchor="start" textLength="7.09" lengthAdjust="spacingAndGlyphs" stroke-width="0.15">0.0</text>
<text x="321.1" y="331.4" font-size="5" text-anchor="start" textLength="9.92" lengthAdjust="spacingAndGlyphs" stroke-width="0.15">0.01</text>
<text x="334" y="331.4" font-size="5" text-anchor="start" textLength="7.09" lengthAdjust="spacingAndGlyphs" stroke-width="0.15">0.1</text>
<text x="344.06" y="331.4" font-size="5" text-anchor="start" textLength="9.92" lengthAdjust="spacingAndGlyphs" stroke-width="0.15">0.25</text>
<text x="356.96" y="331.4" font-size="5" text-anchor="start" textLength="7.09" lengthAdjust="spacingAndGlyphs" stroke-width="0.15">0.5</text>
<text x="367.02" y="331.4" font-size="5" text-anchor="start" textLength="9.92" lengthAdjust="spacingAndGlyphs" stroke-width="0.15">0.75</text>
<text x="382.04" y="331.4" font-size="5" text-anchor="start" textLength="2.84" lengthAdjust="spacingAndGlyphs" stroke-width="0.15">1</text>
<text x="370.3" y="275.95" font-size="6.8" text-anchor="start" textLength="19.7" lengthAdjust="spacingAndGlyphs" stroke-width="0.22">CD164</text>
<text x="0" y="0" font-size="6.1" transform="translate(282.5 320.2) rotate(-90)" textLength="50.4" lengthAdjust="spacingAndGlyphs" stroke-width="0.12">Stimulation Index</text>
<text x="326.3" y="340.7" font-size="6.6" text-anchor="start" textLength="41.7" lengthAdjust="spacingAndGlyphs" stroke-width="0.22">Dasatinib, µM</text>
<path d="M308.4 341.8 Q308.4 343 309.6 343 L388.4 343 Q389.6 343 389.6 341.8" stroke-width="0.8" fill="none"/>
<text x="319.4" y="349.8" font-size="6.4" text-anchor="start" textLength="54.6" lengthAdjust="spacingAndGlyphs" stroke-width="0.22">nDer p 1, 1 µg/mL</text>
<line x1="423.4" y1="268.8" x2="423.4" y2="326.9" stroke-width="0.75"/>
<line x1="422.4" y1="326.4" x2="423.4" y2="326.4" stroke-width="0.75"/>
<text x="414.89" y="328.06" font-size="4.6" text-anchor="start" textLength="6.71" lengthAdjust="spacingAndGlyphs" stroke-width="0.15">0.0</text>
<line x1="422.4" y1="314.94" x2="423.4" y2="314.94" stroke-width="0.75"/>
<text x="414.89" y="316.6" font-size="4.6" text-anchor="start" textLength="6.71" lengthAdjust="spacingAndGlyphs" stroke-width="0.15">1.0</text>
<line x1="422.4" y1="303.48" x2="423.4" y2="303.48" stroke-width="0.75"/>
<text x="414.89" y="305.14" font-size="4.6" text-anchor="start" textLength="6.71" lengthAdjust="spacingAndGlyphs" stroke-width="0.15">2.0</text>
<line x1="422.4" y1="292.02" x2="423.4" y2="292.02" stroke-width="0.75"/>
<text x="414.89" y="293.68" font-size="4.6" text-anchor="start" textLength="6.71" lengthAdjust="spacingAndGlyphs" stroke-width="0.15">3.0</text>
<line x1="422.4" y1="280.56" x2="423.4" y2="280.56" stroke-width="0.75"/>
<text x="414.89" y="282.22" font-size="4.6" text-anchor="start" textLength="6.71" lengthAdjust="spacingAndGlyphs" stroke-width="0.15">4.0</text>
<line x1="422.4" y1="269.1" x2="423.4" y2="269.1" stroke-width="0.75"/>
<text x="414.89" y="270.76" font-size="4.6" text-anchor="start" textLength="6.71" lengthAdjust="spacingAndGlyphs" stroke-width="0.15">5.0</text>
<line x1="422.95" y1="326.4" x2="515.16" y2="326.4" stroke-width="0.9"/>
<rect x="425.5" y="314.94" width="9" height="11.46"/>
<rect x="436.98" y="287.44" width="9" height="38.96"/>
<line x1="441.48" y1="287.44" x2="441.48" y2="274.83" stroke-width="0.85"/>
<line x1="440.03" y1="274.83" x2="442.93" y2="274.83" stroke-width="0.95"/>
<rect x="448.46" y="286.29" width="9" height="40.11"/>
<line x1="452.96" y1="286.29" x2="452.96" y2="273.68" stroke-width="0.85"/>
<line x1="451.51" y1="273.68" x2="454.41" y2="273.68" stroke-width="0.95"/>
<rect x="459.94" y="287.44" width="9" height="38.96"/>
<line x1="464.44" y1="287.44" x2="464.44" y2="274.83" stroke-width="0.85"/>
<line x1="462.99" y1="274.83" x2="465.89" y2="274.83" stroke-width="0.95"/>
<rect x="471.42" y="292.02" width="9" height="34.38"/>
<line x1="475.92" y1="292.02" x2="475.92" y2="280.56" stroke-width="0.85"/>
<line x1="474.47" y1="280.56" x2="477.37" y2="280.56" stroke-width="0.95"/>
<rect x="482.9" y="302.33" width="9" height="24.07"/>
<line x1="487.4" y1="302.33" x2="487.4" y2="288.58" stroke-width="0.85"/>
<line x1="485.95" y1="288.58" x2="488.85" y2="288.58" stroke-width="0.95"/>
<circle cx="487.4" cy="284" r="1.3"/>
<rect x="494.38" y="312.65" width="9" height="13.75"/>
<line x1="498.88" y1="312.65" x2="498.88" y2="306.92" stroke-width="0.85"/>
<line x1="497.43" y1="306.92" x2="500.33" y2="306.92" stroke-width="0.95"/>
<circle cx="498.88" cy="302.33" r="1.3"/>
<rect x="505.86" y="316.09" width="9" height="10.31"/>
<line x1="510.36" y1="316.09" x2="510.36" y2="312.65" stroke-width="0.85"/>
<line x1="508.91" y1="312.65" x2="511.81" y2="312.65" stroke-width="0.95"/>
<circle cx="510.36" cy="309.21" r="1.3"/>
<text x="427.19" y="331.4" font-size="5" text-anchor="start" textLength="5.61" lengthAdjust="spacingAndGlyphs" stroke-width="0.15">co</text>
<text x="437.94" y="331.4" font-size="5" text-anchor="start" textLength="7.09" lengthAdjust="spacingAndGlyphs" stroke-width="0.15">0.0</text>
<text x="448" y="331.4" font-size="5" text-anchor="start" textLength="9.92" lengthAdjust="spacingAndGlyphs" stroke-width="0.15">0.01</text>
<text x="460.9" y="331.4" font-size="5" text-anchor="start" textLength="7.09" lengthAdjust="spacingAndGlyphs" stroke-width="0.15">0.1</text>
<text x="470.96" y="331.4" font-size="5" text-anchor="start" textLength="9.92" lengthAdjust="spacingAndGlyphs" stroke-width="0.15">0.25</text>
<text x="483.86" y="331.4" font-size="5" text-anchor="start" textLength="7.09" lengthAdjust="spacingAndGlyphs" stroke-width="0.15">0.5</text>
<text x="493.92" y="331.4" font-size="5" text-anchor="start" textLength="9.92" lengthAdjust="spacingAndGlyphs" stroke-width="0.15">0.75</text>
<text x="508.94" y="331.4" font-size="5" text-anchor="start" textLength="2.84" lengthAdjust="spacingAndGlyphs" stroke-width="0.15">1</text>
<text x="497.2" y="275.85" font-size="6.8" text-anchor="start" textLength="23.2" lengthAdjust="spacingAndGlyphs" stroke-width="0.22">CD203c</text>
<text x="0" y="0" font-size="6.1" transform="translate(408.9 320.2) rotate(-90)" textLength="50.4" lengthAdjust="spacingAndGlyphs" stroke-width="0.12">Stimulation Index</text>
<text x="453.2" y="340.7" font-size="6.6" text-anchor="start" textLength="41.7" lengthAdjust="spacingAndGlyphs" stroke-width="0.22">Dasatinib, µM</text>
<path d="M435.3 341.8 Q435.3 343 436.5 343 L515.3 343 Q516.5 343 516.5 341.8" stroke-width="0.8" fill="none"/>
<text x="446.3" y="349.8" font-size="6.4" text-anchor="start" textLength="54.6" lengthAdjust="spacingAndGlyphs" stroke-width="0.22">nDer p 1, 1 µg/mL</text>
<line x1="296.8" y1="361.4" x2="296.8" y2="419.8" stroke-width="0.75"/>
<line x1="295.8" y1="419.3" x2="296.8" y2="419.3" stroke-width="0.75"/>
<text x="288.29" y="420.96" font-size="4.6" text-anchor="start" textLength="6.71" lengthAdjust="spacingAndGlyphs" stroke-width="0.15">0.0</text>
<line x1="295.8" y1="407.78" x2="296.8" y2="407.78" stroke-width="0.75"/>
<text x="288.29" y="409.44" font-size="4.6" text-anchor="start" textLength="6.71" lengthAdjust="spacingAndGlyphs" stroke-width="0.15">1.0</text>
<line x1="295.8" y1="396.26" x2="296.8" y2="396.26" stroke-width="0.75"/>
<text x="288.29" y="397.92" font-size="4.6" text-anchor="start" textLength="6.71" lengthAdjust="spacingAndGlyphs" stroke-width="0.15">2.0</text>
<line x1="295.8" y1="384.74" x2="296.8" y2="384.74" stroke-width="0.75"/>
<text x="288.29" y="386.4" font-size="4.6" text-anchor="start" textLength="6.71" lengthAdjust="spacingAndGlyphs" stroke-width="0.15">3.0</text>
<line x1="295.8" y1="373.22" x2="296.8" y2="373.22" stroke-width="0.75"/>
<text x="288.29" y="374.88" font-size="4.6" text-anchor="start" textLength="6.71" lengthAdjust="spacingAndGlyphs" stroke-width="0.15">4.0</text>
<line x1="295.8" y1="361.7" x2="296.8" y2="361.7" stroke-width="0.75"/>
<text x="288.29" y="363.36" font-size="4.6" text-anchor="start" textLength="6.71" lengthAdjust="spacingAndGlyphs" stroke-width="0.15">5.0</text>
<line x1="296.35" y1="419.3" x2="388.26" y2="419.3" stroke-width="0.9"/>
<rect x="298.6" y="407.78" width="9" height="11.52"/>
<rect x="310.08" y="383.59" width="9" height="35.71"/>
<line x1="314.58" y1="383.59" x2="314.58" y2="375.52" stroke-width="0.85"/>
<line x1="313.13" y1="375.52" x2="316.03" y2="375.52" stroke-width="0.95"/>
<rect x="321.56" y="382.44" width="9" height="36.86"/>
<line x1="326.06" y1="382.44" x2="326.06" y2="373.22" stroke-width="0.85"/>
<line x1="324.61" y1="373.22" x2="327.51" y2="373.22" stroke-width="0.95"/>
<rect x="333.04" y="382.44" width="9" height="36.86"/>
<line x1="337.54" y1="382.44" x2="337.54" y2="372.07" stroke-width="0.85"/>
<line x1="336.09" y1="372.07" x2="338.99" y2="372.07" stroke-width="0.95"/>
<rect x="344.52" y="390.5" width="9" height="28.8"/>
<line x1="349.02" y1="390.5" x2="349.02" y2="381.28" stroke-width="0.85"/>
<line x1="347.57" y1="381.28" x2="350.47" y2="381.28" stroke-width="0.95"/>
<rect x="356" y="398.56" width="9" height="20.74"/>
<line x1="360.5" y1="398.56" x2="360.5" y2="391.65" stroke-width="0.85"/>
<line x1="359.05" y1="391.65" x2="361.95" y2="391.65" stroke-width="0.95"/>
<circle cx="360.5" cy="387.04" r="1.3"/>
<rect x="367.48" y="404.32" width="9" height="14.98"/>
<line x1="371.98" y1="404.32" x2="371.98" y2="399.72" stroke-width="0.85"/>
<line x1="370.53" y1="399.72" x2="373.43" y2="399.72" stroke-width="0.95"/>
<circle cx="371.98" cy="395.11" r="1.3"/>
<rect x="378.96" y="407.78" width="9" height="11.52"/>
<line x1="383.46" y1="407.78" x2="383.46" y2="406.63" stroke-width="0.85"/>
<line x1="382.01" y1="406.63" x2="384.91" y2="406.63" stroke-width="0.95"/>
<circle cx="383.46" cy="402.02" r="1.3"/>
<text x="300.3" y="424.3" font-size="5" text-anchor="start" textLength="5.61" lengthAdjust="spacingAndGlyphs" stroke-width="0.15">co</text>
<text x="311.04" y="424.3" font-size="5" text-anchor="start" textLength="7.09" lengthAdjust="spacingAndGlyphs" stroke-width="0.15">0.0</text>
<text x="321.1" y="424.3" font-size="5" text-anchor="start" textLength="9.92" lengthAdjust="spacingAndGlyphs" stroke-width="0.15">0.01</text>
<text x="334" y="424.3" font-size="5" text-anchor="start" textLength="7.09" lengthAdjust="spacingAndGlyphs" stroke-width="0.15">0.1</text>
<text x="344.06" y="424.3" font-size="5" text-anchor="start" textLength="9.92" lengthAdjust="spacingAndGlyphs" stroke-width="0.15">0.25</text>
<text x="356.96" y="424.3" font-size="5" text-anchor="start" textLength="7.09" lengthAdjust="spacingAndGlyphs" stroke-width="0.15">0.5</text>
<text x="367.02" y="424.3" font-size="5" text-anchor="start" textLength="9.92" lengthAdjust="spacingAndGlyphs" stroke-width="0.15">0.75</text>
<text x="382.04" y="424.3" font-size="5" text-anchor="start" textLength="2.84" lengthAdjust="spacingAndGlyphs" stroke-width="0.15">1</text>
<text x="374" y="368.65" font-size="6.8" text-anchor="start" textLength="16" lengthAdjust="spacingAndGlyphs" stroke-width="0.22">CD13</text>
<text x="0" y="0" font-size="6.1" transform="translate(282.5 413.1) rotate(-90)" textLength="50.4" lengthAdjust="spacingAndGlyphs" stroke-width="0.12">Stimulation Index</text>
<text x="326.3" y="433.1" font-size="6.6" text-anchor="start" textLength="41.7" lengthAdjust="spacingAndGlyphs" stroke-width="0.22">Dasatinib, µM</text>
<path d="M308.4 434.4 Q308.4 435.6 309.6 435.6 L388.4 435.6 Q389.6 435.6 389.6 434.4" stroke-width="0.8" fill="none"/>
<text x="322.5" y="442.4" font-size="6.4" text-anchor="start" textLength="48.4" lengthAdjust="spacingAndGlyphs" stroke-width="0.22">rPhl p 5, 1 µg/mL</text>
<line x1="423.4" y1="361.4" x2="423.4" y2="419.8" stroke-width="0.75"/>
<line x1="422.4" y1="419.3" x2="423.4" y2="419.3" stroke-width="0.75"/>
<text x="414.89" y="420.96" font-size="4.6" text-anchor="start" textLength="6.71" lengthAdjust="spacingAndGlyphs" stroke-width="0.15">0.0</text>
<line x1="422.4" y1="412.1" x2="423.4" y2="412.1" stroke-width="0.75"/>
<text x="414.89" y="413.76" font-size="4.6" text-anchor="start" textLength="6.71" lengthAdjust="spacingAndGlyphs" stroke-width="0.15">1.0</text>
<line x1="422.4" y1="404.9" x2="423.4" y2="404.9" stroke-width="0.75"/>
<text x="414.89" y="406.56" font-size="4.6" text-anchor="start" textLength="6.71" lengthAdjust="spacingAndGlyphs" stroke-width="0.15">2.0</text>
<line x1="422.4" y1="397.7" x2="423.4" y2="397.7" stroke-width="0.75"/>
<text x="414.89" y="399.36" font-size="4.6" text-anchor="start" textLength="6.71" lengthAdjust="spacingAndGlyphs" stroke-width="0.15">3.0</text>
<line x1="422.4" y1="390.5" x2="423.4" y2="390.5" stroke-width="0.75"/>
<text x="414.89" y="392.16" font-size="4.6" text-anchor="start" textLength="6.71" lengthAdjust="spacingAndGlyphs" stroke-width="0.15">4.0</text>
<line x1="422.4" y1="383.3" x2="423.4" y2="383.3" stroke-width="0.75"/>
<text x="414.89" y="384.96" font-size="4.6" text-anchor="start" textLength="6.71" lengthAdjust="spacingAndGlyphs" stroke-width="0.15">5.0</text>
<line x1="422.4" y1="376.1" x2="423.4" y2="376.1" stroke-width="0.75"/>
<text x="414.89" y="377.76" font-size="4.6" text-anchor="start" textLength="6.71" lengthAdjust="spacingAndGlyphs" stroke-width="0.15">6.0</text>
<line x1="422.4" y1="368.9" x2="423.4" y2="368.9" stroke-width="0.75"/>
<text x="414.89" y="370.56" font-size="4.6" text-anchor="start" textLength="6.71" lengthAdjust="spacingAndGlyphs" stroke-width="0.15">7.0</text>
<line x1="422.4" y1="361.7" x2="423.4" y2="361.7" stroke-width="0.75"/>
<text x="414.89" y="363.36" font-size="4.6" text-anchor="start" textLength="6.71" lengthAdjust="spacingAndGlyphs" stroke-width="0.15">8.0</text>
<line x1="422.95" y1="419.3" x2="515.16" y2="419.3" stroke-width="0.9"/>
<rect x="425.5" y="412.82" width="9" height="6.48"/>
<rect x="436.98" y="392.66" width="9" height="26.64"/>
<line x1="441.48" y1="392.66" x2="441.48" y2="386.18" stroke-width="0.85"/>
<line x1="440.03" y1="386.18" x2="442.93" y2="386.18" stroke-width="0.95"/>
<rect x="448.46" y="386.9" width="9" height="32.4"/>
<line x1="452.96" y1="386.9" x2="452.96" y2="366.74" stroke-width="0.85"/>
<line x1="451.51" y1="366.74" x2="454.41" y2="366.74" stroke-width="0.95"/>
<rect x="459.94" y="383.3" width="9" height="36"/>
<line x1="464.44" y1="383.3" x2="464.44" y2="372.5" stroke-width="0.85"/>
<line x1="462.99" y1="372.5" x2="465.89" y2="372.5" stroke-width="0.95"/>
<rect x="471.42" y="398.42" width="9" height="20.88"/>
<line x1="475.92" y1="398.42" x2="475.92" y2="379.7" stroke-width="0.85"/>
<line x1="474.47" y1="379.7" x2="477.37" y2="379.7" stroke-width="0.95"/>
<rect x="482.9" y="397.7" width="9" height="21.6"/>
<line x1="487.4" y1="397.7" x2="487.4" y2="380.42" stroke-width="0.85"/>
<line x1="485.95" y1="380.42" x2="488.85" y2="380.42" stroke-width="0.95"/>
<rect x="494.38" y="409.22" width="9" height="10.08"/>
<line x1="498.88" y1="409.22" x2="498.88" y2="402.74" stroke-width="0.85"/>
<line x1="497.43" y1="402.74" x2="500.33" y2="402.74" stroke-width="0.95"/>
<circle cx="498.88" cy="398.42" r="1.3"/>
<rect x="505.86" y="411.38" width="9" height="7.92"/>
<line x1="510.36" y1="411.38" x2="510.36" y2="409.22" stroke-width="0.85"/>
<line x1="508.91" y1="409.22" x2="511.81" y2="409.22" stroke-width="0.95"/>
<circle cx="510.36" cy="404.9" r="1.3"/>
<text x="427.19" y="424.3" font-size="5" text-anchor="start" textLength="5.61" lengthAdjust="spacingAndGlyphs" stroke-width="0.15">co</text>
<text x="437.94" y="424.3" font-size="5" text-anchor="start" textLength="7.09" lengthAdjust="spacingAndGlyphs" stroke-width="0.15">0.0</text>
<text x="448" y="424.3" font-size="5" text-anchor="start" textLength="9.92" lengthAdjust="spacingAndGlyphs" stroke-width="0.15">0.01</text>
<text x="460.9" y="424.3" font-size="5" text-anchor="start" textLength="7.09" lengthAdjust="spacingAndGlyphs" stroke-width="0.15">0.1</text>
<text x="470.96" y="424.3" font-size="5" text-anchor="start" textLength="9.92" lengthAdjust="spacingAndGlyphs" stroke-width="0.15">0.25</text>
<text x="483.86" y="424.3" font-size="5" text-anchor="start" textLength="7.09" lengthAdjust="spacingAndGlyphs" stroke-width="0.15">0.5</text>
<text x="493.92" y="424.3" font-size="5" text-anchor="start" textLength="9.92" lengthAdjust="spacingAndGlyphs" stroke-width="0.15">0.75</text>
<text x="508.94" y="424.3" font-size="5" text-anchor="start" textLength="2.84" lengthAdjust="spacingAndGlyphs" stroke-width="0.15">1</text>
<text x="501.3" y="368.35" font-size="6.8" text-anchor="start" textLength="15.7" lengthAdjust="spacingAndGlyphs" stroke-width="0.22">CD63</text>
<text x="0" y="0" font-size="6.1" transform="translate(408.9 413.1) rotate(-90)" textLength="50.4" lengthAdjust="spacingAndGlyphs" stroke-width="0.12">Stimulation Index</text>
<text x="453.2" y="433.1" font-size="6.6" text-anchor="start" textLength="41.7" lengthAdjust="spacingAndGlyphs" stroke-width="0.22">Dasatinib, µM</text>
<path d="M435.3 434.4 Q435.3 435.6 436.5 435.6 L515.3 435.6 Q516.5 435.6 516.5 434.4" stroke-width="0.8" fill="none"/>
<text x="449.4" y="442.4" font-size="6.4" text-anchor="start" textLength="48.4" lengthAdjust="spacingAndGlyphs" stroke-width="0.22">rPhl p 5, 1 µg/mL</text>
<line x1="296.8" y1="452.7" x2="296.8" y2="510.1" stroke-width="0.75"/>
<line x1="295.8" y1="509.6" x2="296.8" y2="509.6" stroke-width="0.75"/>
<text x="288.29" y="511.26" font-size="4.6" text-anchor="start" textLength="6.71" lengthAdjust="spacingAndGlyphs" stroke-width="0.15">0.0</text>
<line x1="295.8" y1="502.53" x2="296.8" y2="502.53" stroke-width="0.75"/>
<text x="288.29" y="504.18" font-size="4.6" text-anchor="start" textLength="6.71" lengthAdjust="spacingAndGlyphs" stroke-width="0.15">2.0</text>
<line x1="295.8" y1="495.45" x2="296.8" y2="495.45" stroke-width="0.75"/>
<text x="288.29" y="497.11" font-size="4.6" text-anchor="start" textLength="6.71" lengthAdjust="spacingAndGlyphs" stroke-width="0.15">4.0</text>
<line x1="295.8" y1="488.38" x2="296.8" y2="488.38" stroke-width="0.75"/>
<text x="288.29" y="490.03" font-size="4.6" text-anchor="start" textLength="6.71" lengthAdjust="spacingAndGlyphs" stroke-width="0.15">6.0</text>
<line x1="295.8" y1="481.3" x2="296.8" y2="481.3" stroke-width="0.75"/>
<text x="288.29" y="482.96" font-size="4.6" text-anchor="start" textLength="6.71" lengthAdjust="spacingAndGlyphs" stroke-width="0.15">8.0</text>
<line x1="295.8" y1="474.23" x2="296.8" y2="474.23" stroke-width="0.75"/>
<text x="285.6" y="475.88" font-size="4.6" text-anchor="start" textLength="9.4" lengthAdjust="spacingAndGlyphs" stroke-width="0.15">10.0</text>
<line x1="295.8" y1="467.15" x2="296.8" y2="467.15" stroke-width="0.75"/>
<text x="285.6" y="468.81" font-size="4.6" text-anchor="start" textLength="9.4" lengthAdjust="spacingAndGlyphs" stroke-width="0.15">12.0</text>
<line x1="295.8" y1="460.07" x2="296.8" y2="460.07" stroke-width="0.75"/>
<text x="285.6" y="461.73" font-size="4.6" text-anchor="start" textLength="9.4" lengthAdjust="spacingAndGlyphs" stroke-width="0.15">14.0</text>
<line x1="295.8" y1="453" x2="296.8" y2="453" stroke-width="0.75"/>
<text x="285.6" y="454.66" font-size="4.6" text-anchor="start" textLength="9.4" lengthAdjust="spacingAndGlyphs" stroke-width="0.15">16.0</text>
<line x1="296.35" y1="509.6" x2="388.26" y2="509.6" stroke-width="0.9"/>
<rect x="298.6" y="506.77" width="9" height="2.83"/>
<rect x="310.08" y="483.42" width="9" height="26.18"/>
<line x1="314.58" y1="483.42" x2="314.58" y2="469.63" stroke-width="0.85"/>
<line x1="313.13" y1="469.63" x2="316.03" y2="469.63" stroke-width="0.95"/>
<rect x="321.56" y="480.59" width="9" height="29.01"/>
<line x1="326.06" y1="480.59" x2="326.06" y2="465.38" stroke-width="0.85"/>
<line x1="324.61" y1="465.38" x2="327.51" y2="465.38" stroke-width="0.95"/>
<rect x="333.04" y="477.76" width="9" height="31.84"/>
<line x1="337.54" y1="477.76" x2="337.54" y2="459.01" stroke-width="0.85"/>
<line x1="336.09" y1="459.01" x2="338.99" y2="459.01" stroke-width="0.95"/>
<rect x="344.52" y="486.61" width="9" height="22.99"/>
<line x1="349.02" y1="486.61" x2="349.02" y2="470.33" stroke-width="0.85"/>
<line x1="347.57" y1="470.33" x2="350.47" y2="470.33" stroke-width="0.95"/>
<rect x="356" y="489.79" width="9" height="19.81"/>
<line x1="360.5" y1="489.79" x2="360.5" y2="475.29" stroke-width="0.85"/>
<line x1="359.05" y1="475.29" x2="361.95" y2="475.29" stroke-width="0.95"/>
<rect x="367.48" y="501.46" width="9" height="8.14"/>
<line x1="371.98" y1="501.46" x2="371.98" y2="494.39" stroke-width="0.85"/>
<line x1="370.53" y1="494.39" x2="373.43" y2="494.39" stroke-width="0.95"/>
<circle cx="371.98" cy="490.5" r="1.3"/>
<rect x="378.96" y="505.71" width="9" height="3.89"/>
<line x1="383.46" y1="505.71" x2="383.46" y2="503.23" stroke-width="0.85"/>
<line x1="382.01" y1="503.23" x2="384.91" y2="503.23" stroke-width="0.95"/>
<circle cx="383.46" cy="500.4" r="1.3"/>
<text x="300.3" y="514.6" font-size="5" text-anchor="start" textLength="5.61" lengthAdjust="spacingAndGlyphs" stroke-width="0.15">co</text>
<text x="311.04" y="514.6" font-size="5" text-anchor="start" textLength="7.09" lengthAdjust="spacingAndGlyphs" stroke-width="0.15">0.0</text>
<text x="321.1" y="514.6" font-size="5" text-anchor="start" textLength="9.92" lengthAdjust="spacingAndGlyphs" stroke-width="0.15">0.01</text>
<text x="334" y="514.6" font-size="5" text-anchor="start" textLength="7.09" lengthAdjust="spacingAndGlyphs" stroke-width="0.15">0.1</text>
<text x="344.06" y="514.6" font-size="5" text-anchor="start" textLength="9.92" lengthAdjust="spacingAndGlyphs" stroke-width="0.15">0.25</text>
<text x="356.96" y="514.6" font-size="5" text-anchor="start" textLength="7.09" lengthAdjust="spacingAndGlyphs" stroke-width="0.15">0.5</text>
<text x="367.02" y="514.6" font-size="5" text-anchor="start" textLength="9.92" lengthAdjust="spacingAndGlyphs" stroke-width="0.15">0.75</text>
<text x="382.04" y="514.6" font-size="5" text-anchor="start" textLength="2.84" lengthAdjust="spacingAndGlyphs" stroke-width="0.15">1</text>
<text x="370.3" y="458.95" font-size="6.8" text-anchor="start" textLength="19.7" lengthAdjust="spacingAndGlyphs" stroke-width="0.22">CD164</text>
<text x="0" y="0" font-size="6.1" transform="translate(282.5 503.4) rotate(-90)" textLength="50.4" lengthAdjust="spacingAndGlyphs" stroke-width="0.12">Stimulation Index</text>
<text x="326.3" y="523.1" font-size="6.6" text-anchor="start" textLength="41.7" lengthAdjust="spacingAndGlyphs" stroke-width="0.22">Dasatinib, µM</text>
<path d="M308.4 524 Q308.4 525.2 309.6 525.2 L388.4 525.2 Q389.6 525.2 389.6 524" stroke-width="0.8" fill="none"/>
<text x="322.5" y="532.4" font-size="6.4" text-anchor="start" textLength="48.4" lengthAdjust="spacingAndGlyphs" stroke-width="0.22">rPhl p 5, 1 µg/mL</text>
<line x1="423.4" y1="452.7" x2="423.4" y2="510.1" stroke-width="0.75"/>
<line x1="422.4" y1="509.6" x2="423.4" y2="509.6" stroke-width="0.75"/>
<text x="414.89" y="511.26" font-size="4.6" text-anchor="start" textLength="6.71" lengthAdjust="spacingAndGlyphs" stroke-width="0.15">0.0</text>
<line x1="422.4" y1="498.28" x2="423.4" y2="498.28" stroke-width="0.75"/>
<text x="414.89" y="499.94" font-size="4.6" text-anchor="start" textLength="6.71" lengthAdjust="spacingAndGlyphs" stroke-width="0.15">1.0</text>
<line x1="422.4" y1="486.96" x2="423.4" y2="486.96" stroke-width="0.75"/>
<text x="414.89" y="488.62" font-size="4.6" text-anchor="start" textLength="6.71" lengthAdjust="spacingAndGlyphs" stroke-width="0.15">2.0</text>
<line x1="422.4" y1="475.64" x2="423.4" y2="475.64" stroke-width="0.75"/>
<text x="414.89" y="477.3" font-size="4.6" text-anchor="start" textLength="6.71" lengthAdjust="spacingAndGlyphs" stroke-width="0.15">3.0</text>
<line x1="422.4" y1="464.32" x2="423.4" y2="464.32" stroke-width="0.75"/>
<text x="414.89" y="465.98" font-size="4.6" text-anchor="start" textLength="6.71" lengthAdjust="spacingAndGlyphs" stroke-width="0.15">4.0</text>
<line x1="422.4" y1="453" x2="423.4" y2="453" stroke-width="0.75"/>
<text x="414.89" y="454.66" font-size="4.6" text-anchor="start" textLength="6.71" lengthAdjust="spacingAndGlyphs" stroke-width="0.15">5.0</text>
<line x1="422.95" y1="509.6" x2="515.16" y2="509.6" stroke-width="0.9"/>
<rect x="425.5" y="498.28" width="9" height="11.32"/>
<rect x="436.98" y="469.98" width="9" height="39.62"/>
<line x1="441.48" y1="469.98" x2="441.48" y2="466.58" stroke-width="0.85"/>
<line x1="440.03" y1="466.58" x2="442.93" y2="466.58" stroke-width="0.95"/>
<rect x="448.46" y="465.45" width="9" height="44.15"/>
<line x1="452.96" y1="465.45" x2="452.96" y2="460.92" stroke-width="0.85"/>
<line x1="451.51" y1="460.92" x2="454.41" y2="460.92" stroke-width="0.95"/>
<rect x="459.94" y="467.72" width="9" height="41.88"/>
<line x1="464.44" y1="467.72" x2="464.44" y2="458.66" stroke-width="0.85"/>
<line x1="462.99" y1="458.66" x2="465.89" y2="458.66" stroke-width="0.95"/>
<rect x="471.42" y="479.04" width="9" height="30.56"/>
<line x1="475.92" y1="479.04" x2="475.92" y2="468.85" stroke-width="0.85"/>
<line x1="474.47" y1="468.85" x2="477.37" y2="468.85" stroke-width="0.95"/>
<rect x="482.9" y="482.43" width="9" height="27.17"/>
<line x1="487.4" y1="482.43" x2="487.4" y2="469.98" stroke-width="0.85"/>
<line x1="485.95" y1="469.98" x2="488.85" y2="469.98" stroke-width="0.95"/>
<rect x="494.38" y="492.62" width="9" height="16.98"/>
<line x1="498.88" y1="492.62" x2="498.88" y2="483.56" stroke-width="0.85"/>
<line x1="497.43" y1="483.56" x2="500.33" y2="483.56" stroke-width="0.95"/>
<circle cx="498.88" cy="477.9" r="1.3"/>
<rect x="505.86" y="494.88" width="9" height="14.72"/>
<line x1="510.36" y1="494.88" x2="510.36" y2="486.96" stroke-width="0.85"/>
<line x1="508.91" y1="486.96" x2="511.81" y2="486.96" stroke-width="0.95"/>
<circle cx="510.36" cy="480.17" r="1.3"/>
<text x="427.19" y="514.6" font-size="5" text-anchor="start" textLength="5.61" lengthAdjust="spacingAndGlyphs" stroke-width="0.15">co</text>
<text x="437.94" y="514.6" font-size="5" text-anchor="start" textLength="7.09" lengthAdjust="spacingAndGlyphs" stroke-width="0.15">0.0</text>
<text x="448" y="514.6" font-size="5" text-anchor="start" textLength="9.92" lengthAdjust="spacingAndGlyphs" stroke-width="0.15">0.01</text>
<text x="460.9" y="514.6" font-size="5" text-anchor="start" textLength="7.09" lengthAdjust="spacingAndGlyphs" stroke-width="0.15">0.1</text>
<text x="470.96" y="514.6" font-size="5" text-anchor="start" textLength="9.92" lengthAdjust="spacingAndGlyphs" stroke-width="0.15">0.25</text>
<text x="483.86" y="514.6" font-size="5" text-anchor="start" textLength="7.09" lengthAdjust="spacingAndGlyphs" stroke-width="0.15">0.5</text>
<text x="493.92" y="514.6" font-size="5" text-anchor="start" textLength="9.92" lengthAdjust="spacingAndGlyphs" stroke-width="0.15">0.75</text>
<text x="508.94" y="514.6" font-size="5" text-anchor="start" textLength="2.84" lengthAdjust="spacingAndGlyphs" stroke-width="0.15">1</text>
<text x="497.2" y="459.05" font-size="6.8" text-anchor="start" textLength="23.2" lengthAdjust="spacingAndGlyphs" stroke-width="0.22">CD203c</text>
<text x="0" y="0" font-size="6.1" transform="translate(408.9 503.4) rotate(-90)" textLength="50.4" lengthAdjust="spacingAndGlyphs" stroke-width="0.12">Stimulation Index</text>
<text x="453.2" y="523.1" font-size="6.6" text-anchor="start" textLength="41.7" lengthAdjust="spacingAndGlyphs" stroke-width="0.22">Dasatinib, µM</text>
<path d="M435.3 524 Q435.3 525.2 436.5 525.2 L515.3 525.2 Q516.5 525.2 516.5 524" stroke-width="0.8" fill="none"/>
<text x="449.4" y="532.4" font-size="6.4" text-anchor="start" textLength="48.4" lengthAdjust="spacingAndGlyphs" stroke-width="0.22">rPhl p 5, 1 µg/mL</text>
</svg>
</body></html>
